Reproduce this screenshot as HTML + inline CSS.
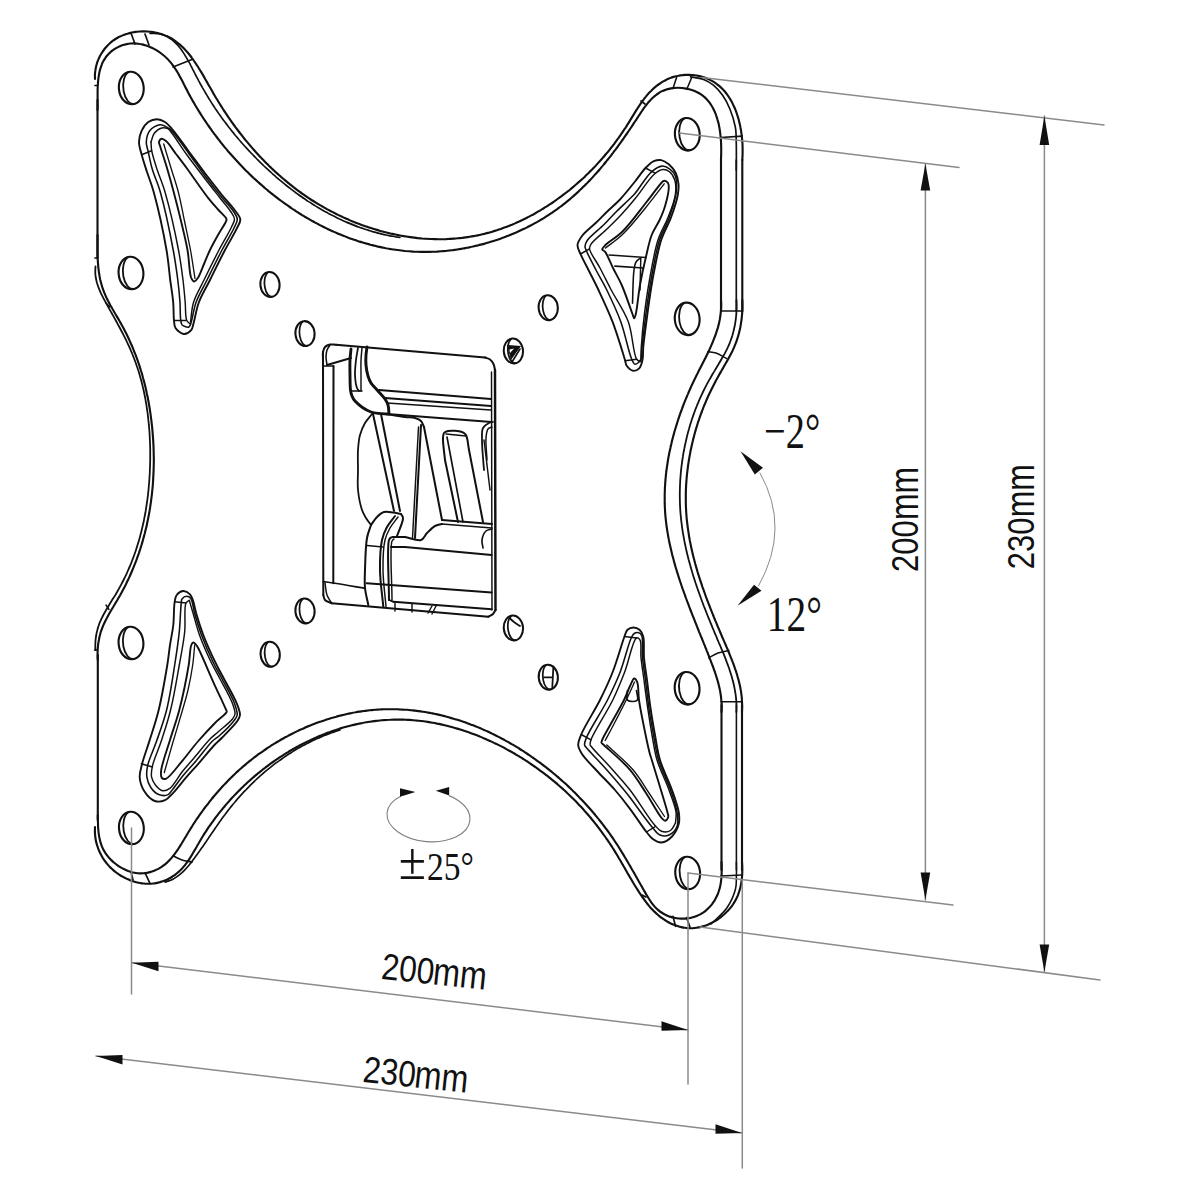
<!DOCTYPE html>
<html><head><meta charset="utf-8"><style>
html,body{margin:0;padding:0;background:#fff;}
svg{display:block;}
text{fill:#111;}
</style></head><body>
<svg width="1200" height="1200" viewBox="0 0 1200 1200" stroke-linecap="round" stroke-linejoin="round">
<rect width="1200" height="1200" fill="#fff"/>
<path d="M97.5,110 C97.5,108.7 97.6,107.5 97.6,106.2 C97.6,104.9 97.6,103.6 97.6,102.2 C97.6,100.9 97.6,99.5 97.6,98.1 C97.6,96.7 97.6,95.3 97.6,93.9 C97.6,92.5 97.6,91.1 97.6,89.7 C97.7,88.2 97.7,86.8 97.8,85.4 C97.9,84 98,82.5 98.1,81.1 C98.3,79.7 98.4,78.3 98.6,76.9 C98.8,75.6 99.1,74.2 99.3,72.9 C99.6,71.5 99.9,70.2 100.3,68.9 C100.7,67.6 101.1,66.4 101.6,65.1 C102,63.9 102.5,62.7 103.1,61.6 C103.7,60.4 104.4,59.3 105.1,58.3 C105.8,57.2 106.6,56.2 107.4,55.3 C108.2,54.3 109.1,53.4 110,52.6 C110.9,51.7 111.9,50.9 112.9,50.2 C113.9,49.4 115,48.7 116.1,48.1 C117.2,47.5 118.3,46.9 119.4,46.4 C120.6,45.9 121.8,45.4 123,45 C124.2,44.7 125.4,44.3 126.7,44.1 C127.9,43.8 129.2,43.6 130.5,43.5 C131.8,43.4 133.1,43.4 134.4,43.4 C135.7,43.4 137,43.5 138.3,43.7 C139.6,43.9 140.9,44.1 142.2,44.4 C143.5,44.7 144.8,45.1 146.1,45.5 C147.3,45.9 148.6,46.4 149.9,46.9 C151.1,47.4 152.4,48 153.6,48.6 C154.8,49.3 156,50 157.2,50.7 C158.3,51.4 159.5,52.2 160.6,53 C161.7,53.8 162.8,54.6 163.8,55.5 C164.9,56.4 165.9,57.3 166.8,58.2 C167.8,59.1 168.7,60.1 169.5,61.1 C170.4,62.1 171.2,63.1 172,64.1 C172.8,65.2 173.6,66.2 174.3,67.3 C175.1,68.4 175.8,69.5 176.5,70.6 C177.2,71.7 177.8,72.8 178.5,73.9 C179.1,75.1 179.7,76.2 180.3,77.4 C181,78.5 181.6,79.7 182.2,80.8 C182.8,82 183.4,83.2 184,84.4 C184.6,85.5 185.1,86.7 185.7,87.9 C186.4,89.1 187,90.2 187.6,91.4 C188.2,92.6 188.8,93.7 189.4,94.9 C190.1,96.1 190.7,97.2 191.4,98.4 C192,99.5 192.7,100.7 193.3,101.9 C194,103 194.7,104.2 195.3,105.3 C196,106.5 196.7,107.6 197.4,108.7 C198.1,109.9 198.8,111 199.5,112.1 C200.2,113.3 200.9,114.4 201.6,115.5 C202.4,116.7 203.1,117.8 203.8,118.9 C204.6,120 205.3,121.1 206.1,122.2 C206.8,123.4 207.6,124.5 208.4,125.6 C209.1,126.7 209.9,127.8 210.7,128.9 C211.5,130 212.2,131.1 213,132.1 C213.8,133.2 214.6,134.3 215.5,135.4 C216.3,136.5 217.1,137.5 217.9,138.6 C218.7,139.7 219.6,140.7 220.4,141.8 C221.2,142.9 222.1,143.9 222.9,145 C223.8,146 224.6,147.1 225.5,148.1 C226.4,149.1 227.2,150.2 228.1,151.2 C229,152.2 229.9,153.3 230.8,154.3 C231.7,155.3 232.6,156.3 233.5,157.3 C234.4,158.3 235.3,159.3 236.2,160.3 C237.1,161.3 238,162.3 239,163.3 C239.9,164.3 240.8,165.3 241.8,166.2 C242.7,167.2 243.6,168.2 244.6,169.2 C245.5,170.1 246.5,171.1 247.5,172 C248.4,173 249.4,173.9 250.4,174.9 C251.4,175.8 252.3,176.7 253.3,177.7 C254.3,178.6 255.3,179.5 256.3,180.4 C257.3,181.3 258.3,182.2 259.3,183.1 C260.3,184 261.3,184.9 262.4,185.8 C263.4,186.7 264.4,187.6 265.4,188.5 C266.5,189.3 267.5,190.2 268.5,191.1 C269.6,191.9 270.6,192.8 271.7,193.6 C272.7,194.5 273.8,195.3 274.9,196.1 C275.9,197 277,197.8 278.1,198.6 C279.1,199.4 280.2,200.2 281.3,201 C282.4,201.8 283.5,202.6 284.6,203.4 C285.7,204.2 286.7,205 287.9,205.7 C289,206.5 290.1,207.3 291.2,208 C292.3,208.8 293.4,209.5 294.5,210.2 C295.6,211 296.8,211.7 297.9,212.4 C299,213.2 300.2,213.9 301.3,214.6 C302.4,215.3 303.6,216 304.7,216.7 C305.9,217.3 307,218 308.2,218.7 C309.3,219.4 310.5,220 311.7,220.7 C312.8,221.3 314,222 315.2,222.6 C316.3,223.2 317.5,223.9 318.7,224.5 C319.9,225.1 321,225.7 322.2,226.3 C323.4,226.9 324.6,227.5 325.8,228.1 C327,228.7 328.2,229.2 329.4,229.8 C330.6,230.4 331.8,230.9 333,231.4 C334.2,232 335.4,232.5 336.7,233 C337.9,233.6 339.1,234.1 340.3,234.6 C341.5,235.1 342.8,235.6 344,236.1 C345.2,236.5 346.5,237 347.7,237.5 C348.9,237.9 350.2,238.4 351.4,238.8 C352.7,239.3 353.9,239.7 355.2,240.1 C356.4,240.6 357.7,241 358.9,241.4 C360.2,241.8 361.4,242.2 362.7,242.5 C364,242.9 365.2,243.3 366.5,243.6 C367.8,244 369,244.3 370.3,244.7 C371.6,245 372.8,245.3 374.1,245.6 C375.4,246 376.7,246.3 378,246.6 C379.2,246.8 380.5,247.1 381.8,247.4 C383.1,247.7 384.4,247.9 385.7,248.2 C387,248.4 388.3,248.6 389.6,248.9 C390.9,249.1 392.2,249.3 393.5,249.5 C394.8,249.7 396.1,249.9 397.4,250 C398.7,250.2 400,250.4 401.3,250.5 C402.6,250.7 403.9,250.8 405.2,251 C406.6,251.1 407.9,251.2 409.2,251.3 C410.5,251.4 411.8,251.5 413.1,251.6 C414.5,251.6 415.8,251.7 417.1,251.8 C418.4,251.8 419.8,251.8 421.1,251.9 C422.4,251.9 423.7,251.9 425.1,251.9 C426.4,251.9 427.7,251.9 429.1,251.9 C430.4,251.8 431.7,251.8 433.1,251.8 C434.4,251.7 435.7,251.6 437.1,251.6 C438.4,251.5 439.7,251.4 441.1,251.3 C442.4,251.2 443.8,251.1 445.1,251 C446.4,250.8 447.8,250.7 449.1,250.5 C450.4,250.4 451.8,250.2 453.1,250.1 C454.5,249.9 455.8,249.7 457.1,249.5 C458.5,249.3 459.8,249.1 461.1,248.9 C462.5,248.6 463.8,248.4 465.1,248.1 C466.4,247.9 467.8,247.6 469.1,247.4 C470.4,247.1 471.7,246.8 473.1,246.5 C474.4,246.2 475.7,245.9 477,245.6 C478.3,245.3 479.7,245 481,244.6 C482.3,244.3 483.6,243.9 484.9,243.6 C486.2,243.2 487.5,242.8 488.8,242.4 C490.1,242 491.4,241.6 492.7,241.2 C494,240.8 495.3,240.4 496.6,240 C497.9,239.5 499.1,239.1 500.4,238.7 C501.7,238.2 503,237.7 504.3,237.3 C505.5,236.8 506.8,236.3 508,235.8 C509.3,235.3 510.6,234.8 511.8,234.3 C513.1,233.8 514.3,233.2 515.6,232.7 C516.8,232.2 518,231.6 519.3,231 C520.5,230.5 521.7,229.9 522.9,229.3 C524.2,228.7 525.4,228.2 526.6,227.6 C527.8,226.9 529,226.3 530.2,225.7 C531.4,225.1 532.6,224.5 533.7,223.8 C534.9,223.2 536.1,222.5 537.3,221.9 C538.4,221.2 539.6,220.5 540.8,219.8 C541.9,219.2 543.1,218.5 544.2,217.8 C545.3,217.1 546.5,216.3 547.6,215.6 C548.7,214.9 549.8,214.2 550.9,213.4 C552,212.7 553.1,211.9 554.2,211.2 C555.3,210.4 556.4,209.6 557.5,208.9 C558.6,208.1 559.6,207.3 560.7,206.5 C561.7,205.7 562.8,204.9 563.8,204.1 C564.9,203.2 565.9,202.4 566.9,201.6 C567.9,200.8 569,199.9 570,199.1 C571,198.2 572,197.4 573,196.5 C574,195.6 574.9,194.7 575.9,193.9 C576.9,193 577.9,192.1 578.8,191.2 C579.8,190.3 580.7,189.4 581.7,188.5 C582.6,187.5 583.6,186.6 584.5,185.7 C585.5,184.8 586.4,183.8 587.3,182.9 C588.2,181.9 589.2,181 590.1,180 C591,179.1 591.9,178.1 592.8,177.1 C593.7,176.1 594.6,175.2 595.4,174.2 C596.3,173.2 597.2,172.2 598.1,171.2 C599,170.2 599.8,169.2 600.7,168.2 C601.5,167.2 602.4,166.1 603.3,165.1 C604.1,164.1 605,163.1 605.8,162 C606.6,161 607.5,160 608.3,158.9 C609.1,157.9 610,156.8 610.8,155.8 C611.6,154.7 612.4,153.6 613.2,152.6 C614,151.5 614.9,150.4 615.7,149.4 C616.5,148.3 617.3,147.2 618.1,146.1 C618.9,145 619.6,143.9 620.4,142.8 C621.2,141.7 622,140.6 622.8,139.5 C623.6,138.4 624.3,137.3 625.1,136.2 C625.9,135.1 626.7,134 627.4,132.9 C628.2,131.8 629,130.6 629.7,129.5 C630.5,128.4 631.2,127.3 632,126.1 C632.7,125 633.5,123.8 634.2,122.7 C635,121.6 635.7,120.4 636.5,119.3 C637.2,118.1 638,117 638.7,115.8 C639.5,114.7 640.2,113.6 641,112.4 C641.7,111.3 642.5,110.2 643.2,109.1 C644,108 644.8,106.9 645.6,105.9 C646.4,104.8 647.2,103.8 648,102.8 C648.9,101.8 649.7,100.8 650.6,99.9 C651.5,98.9 652.4,98 653.3,97.2 C654.2,96.3 655.2,95.5 656.2,94.8 C657.2,94 658.2,93.3 659.3,92.7 C660.4,92 661.5,91.4 662.6,90.9 C663.8,90.4 665,89.9 666.2,89.6 C667.4,89.2 668.7,88.9 670,88.6 C671.3,88.3 672.6,88.2 674,88 C675.3,87.9 676.7,87.8 678,87.8 C679.4,87.8 680.8,87.9 682.1,88 C683.5,88.2 684.9,88.4 686.2,88.6 C687.6,88.9 688.9,89.2 690.2,89.5 C691.5,89.9 692.8,90.3 694.1,90.8 C695.3,91.3 696.5,91.9 697.7,92.5 C698.8,93.1 699.9,93.7 701,94.4 C702,95.1 703.1,95.9 704,96.7 C705,97.5 705.9,98.4 706.7,99.3 C707.6,100.2 708.4,101.2 709.2,102.2 C709.9,103.2 710.6,104.2 711.3,105.3 C712,106.4 712.6,107.5 713.2,108.6 C713.8,109.8 714.4,110.9 714.9,112.1 C715.4,113.4 715.9,114.6 716.3,115.8 C716.8,117.1 717.2,118.4 717.5,119.7 C717.9,121 718.2,122.3 718.6,123.6 C718.9,124.9 719.1,126.3 719.4,127.6 C719.6,129 719.8,130.4 720,131.7 C720.2,133.1 720.4,134.5 720.5,135.9 C720.7,137.2 720.8,138.6 720.9,140 C721,141.4 721.1,142.8 721.1,144.1 C721.2,145.5 721.2,146.9 721.2,148.2 C721.2,149.6 721.2,150.9 721.2,152.3 C721.2,153.6 721.2,154.9 721.1,156.2 C721.1,157.5 721,158.7 721,160" stroke="#111" stroke-width="2.13" fill="none" />
<line x1="721" y1="160" x2="721" y2="311" stroke="#111" stroke-width="2.13"/>
<line x1="97.5" y1="100" x2="97.5" y2="258" stroke="#111" stroke-width="2.13"/>
<path d="M95,79 C95,77.7 94.9,76.3 94.9,75 C95,73.6 95.1,72.3 95.3,70.9 C95.4,69.6 95.7,68.3 96,67 C96.3,65.7 96.6,64.4 97,63.1 C97.4,61.8 97.9,60.6 98.4,59.4 C98.9,58.1 99.5,56.9 100.1,55.7 C100.8,54.6 101.4,53.4 102.2,52.3 C102.9,51.2 103.7,50.1 104.5,49 C105.3,48 106.2,47 107.1,46 C108,45 108.9,44.1 109.9,43.2 C110.9,42.3 111.9,41.5 113,40.7 C114.1,39.9 115.2,39.2 116.3,38.5 C117.5,37.8 118.7,37.1 119.9,36.6 C121.1,36 122.3,35.4 123.6,35 C124.8,34.5 126.1,34 127.4,33.7 C128.7,33.3 130,32.9 131.4,32.6 C132.7,32.4 134,32.1 135.4,31.9 C136.7,31.7 138.1,31.6 139.5,31.5 C140.8,31.4 142.2,31.4 143.6,31.4 C144.9,31.4 146.3,31.4 147.6,31.5 C149,31.6 150.3,31.7 151.7,31.9 C153,32.1 154.3,32.3 155.6,32.6 C156.9,32.8 158.2,33.1 159.5,33.5 C160.7,33.8 162,34.2 163.2,34.7 C164.4,35.1 165.6,35.6 166.7,36.1 C167.9,36.6 169,37.2 170.1,37.8 C171.2,38.4 172.3,39 173.3,39.7 C174.3,40.3 175.4,41.1 176.3,41.8 C177.3,42.5 178.3,43.3 179.3,44.1 C180.2,44.9 181.1,45.7 182,46.6 C182.9,47.4 183.8,48.3 184.7,49.2 C185.6,50.2 186.4,51.1 187.2,52.1 C188.1,53 188.9,54 189.7,55 C190.5,56 191.3,57 192,58.1 C192.8,59.1 193.6,60.2 194.3,61.3 C195.1,62.4 195.8,63.5 196.5,64.6 C197.3,65.7 198,66.8 198.7,68 C199.4,69.1 200.1,70.3 200.8,71.4 C201.5,72.6 202.2,73.8 202.9,74.9 C203.6,76.1 204.3,77.3 204.9,78.5 C205.6,79.7 206.3,80.9 207,82.1 C207.7,83.3 208.3,84.5 209,85.7 C209.7,86.9 210.4,88.1 211.1,89.3 C211.8,90.5 212.4,91.7 213.1,92.9 C213.8,94.1 214.5,95.3 215.2,96.5 C215.9,97.7 216.6,98.8 217.4,100 C218.1,101.2 218.8,102.4 219.5,103.5 C220.2,104.7 221,105.9 221.7,107 C222.4,108.2 223.2,109.3 223.9,110.5 C224.7,111.6 225.4,112.8 226.2,113.9 C227,115 227.7,116.2 228.5,117.3 C229.3,118.4 230,119.5 230.8,120.6 C231.6,121.8 232.4,122.9 233.2,124 C234,125.1 234.8,126.2 235.6,127.3 C236.4,128.3 237.2,129.4 238,130.5 C238.8,131.6 239.6,132.7 240.5,133.7 C241.3,134.8 242.1,135.9 243,136.9 C243.8,138 244.7,139 245.5,140.1 C246.4,141.1 247.2,142.1 248.1,143.2 C248.9,144.2 249.8,145.2 250.7,146.2 C251.5,147.2 252.4,148.3 253.3,149.3 C254.2,150.3 255.1,151.3 256,152.3 C256.9,153.2 257.8,154.2 258.7,155.2 C259.6,156.2 260.5,157.2 261.4,158.1 C262.3,159.1 263.3,160 264.2,161 C265.1,161.9 266.1,162.9 267,163.8 C267.9,164.8 268.9,165.7 269.8,166.6 C270.8,167.5 271.7,168.5 272.7,169.4 C273.7,170.3 274.6,171.2 275.6,172.1 C276.6,173 277.6,173.8 278.6,174.7 C279.6,175.6 280.5,176.5 281.5,177.3 C282.5,178.2 283.5,179.1 284.6,179.9 C285.6,180.8 286.6,181.6 287.6,182.4 C288.6,183.3 289.7,184.1 290.7,184.9 C291.7,185.7 292.8,186.6 293.8,187.4 C294.9,188.2 295.9,189 297,189.8 C298,190.5 299.1,191.3 300.2,192.1 C301.2,192.9 302.3,193.6 303.4,194.4 C304.5,195.2 305.5,195.9 306.6,196.6 C307.7,197.4 308.8,198.1 309.9,198.8 C311,199.6 312.1,200.3 313.3,201 C314.4,201.7 315.5,202.4 316.6,203.1 C317.7,203.8 318.9,204.5 320,205.1 C321.2,205.8 322.3,206.5 323.5,207.1 C324.6,207.8 325.8,208.4 326.9,209.1 C328.1,209.7 329.3,210.3 330.4,211 C331.6,211.6 332.8,212.2 334,212.8 C335.2,213.4 336.3,214 337.5,214.6 C338.7,215.2 339.9,215.8 341.1,216.3 C342.4,216.9 343.6,217.5 344.8,218 C346,218.6 347.2,219.1 348.5,219.6 C349.7,220.2 350.9,220.7 352.1,221.2 C353.4,221.7 354.6,222.2 355.9,222.7 C357.1,223.2 358.4,223.7 359.6,224.1 C360.9,224.6 362.1,225.1 363.4,225.5 C364.7,226 365.9,226.4 367.2,226.8 C368.5,227.3 369.7,227.7 371,228.1 C372.3,228.5 373.6,228.9 374.9,229.3 C376.1,229.7 377.4,230.1 378.7,230.4 C380,230.8 381.3,231.2 382.6,231.5 C383.9,231.9 385.2,232.2 386.5,232.5 C387.8,232.8 389.1,233.2 390.4,233.5 C391.7,233.8 393,234 394.3,234.3 C395.6,234.6 396.9,234.9 398.2,235.1 C399.6,235.4 400.9,235.6 402.2,235.9 C403.5,236.1 404.8,236.3 406.2,236.5 C407.5,236.7 408.8,236.9 410.1,237.1 C411.4,237.3 412.8,237.5 414.1,237.6 C415.4,237.8 416.7,237.9 418.1,238.1 C419.4,238.2 420.7,238.3 422.1,238.5 C423.4,238.6 424.7,238.7 426,238.7 C427.4,238.8 428.7,238.9 430,239 C431.4,239 432.7,239.1 434,239.1 C435.3,239.1 436.7,239.2 438,239.2 C439.3,239.2 440.7,239.2 442,239.2 C443.3,239.1 444.6,239.1 446,239.1 C447.3,239 448.6,239 449.9,238.9 C451.3,238.8 452.6,238.7 453.9,238.6 C455.2,238.5 456.6,238.4 457.9,238.3 C459.2,238.2 460.5,238 461.8,237.9 C463.2,237.7 464.5,237.6 465.8,237.4 C467.1,237.2 468.4,237 469.7,236.8 C471,236.6 472.3,236.4 473.6,236.1 C474.9,235.9 476.2,235.6 477.5,235.4 C478.8,235.1 480.1,234.8 481.4,234.5 C482.7,234.2 484,233.9 485.3,233.6 C486.6,233.2 487.9,232.9 489.2,232.6 C490.4,232.2 491.7,231.8 493,231.4 C494.3,231.1 495.6,230.7 496.8,230.3 C498.1,229.8 499.4,229.4 500.6,229 C501.9,228.5 503.1,228.1 504.4,227.6 C505.6,227.2 506.9,226.7 508.1,226.2 C509.4,225.7 510.6,225.2 511.9,224.7 C513.1,224.2 514.3,223.7 515.6,223.1 C516.8,222.6 518,222 519.2,221.5 C520.5,220.9 521.7,220.3 522.9,219.7 C524.1,219.2 525.3,218.6 526.5,218 C527.7,217.3 528.9,216.7 530.1,216.1 C531.3,215.5 532.5,214.8 533.7,214.2 C534.8,213.5 536,212.9 537.2,212.2 C538.4,211.5 539.5,210.8 540.7,210.1 C541.8,209.4 543,208.7 544.1,208 C545.3,207.3 546.4,206.6 547.6,205.9 C548.7,205.1 549.8,204.4 551,203.6 C552.1,202.9 553.2,202.1 554.3,201.4 C555.4,200.6 556.5,199.8 557.6,199 C558.7,198.2 559.8,197.4 560.9,196.6 C562,195.8 563.1,195 564.1,194.2 C565.2,193.4 566.3,192.6 567.3,191.7 C568.4,190.9 569.4,190.1 570.5,189.2 C571.5,188.4 572.5,187.5 573.6,186.6 C574.6,185.8 575.6,184.9 576.6,184 C577.6,183.1 578.6,182.2 579.6,181.4 C580.6,180.5 581.6,179.6 582.6,178.7 C583.6,177.8 584.6,176.8 585.5,175.9 C586.5,175 587.4,174.1 588.4,173.2 C589.3,172.2 590.3,171.3 591.2,170.3 C592.1,169.4 593.1,168.5 594,167.5 C594.9,166.6 595.8,165.6 596.7,164.6 C597.6,163.7 598.5,162.7 599.3,161.7 C600.2,160.8 601.1,159.8 602,158.8 C602.8,157.8 603.7,156.8 604.5,155.8 C605.4,154.8 606.2,153.8 607.1,152.8 C607.9,151.8 608.7,150.8 609.5,149.8 C610.3,148.8 611.2,147.7 612,146.7 C612.8,145.7 613.6,144.6 614.4,143.6 C615.1,142.5 615.9,141.5 616.7,140.4 C617.5,139.3 618.3,138.3 619,137.2 C619.8,136.1 620.5,135 621.3,133.9 C622.1,132.8 622.8,131.7 623.5,130.6 C624.3,129.5 625,128.4 625.8,127.3 C626.5,126.2 627.2,125 627.9,123.9 C628.7,122.7 629.4,121.6 630.1,120.4 C630.8,119.3 631.5,118.1 632.2,116.9 C632.9,115.8 633.6,114.6 634.4,113.4 C635.1,112.3 635.8,111.1 636.5,109.9 C637.3,108.8 638,107.6 638.7,106.5 C639.5,105.4 640.2,104.2 641,103.1 C641.8,102 642.6,100.9 643.4,99.8 C644.2,98.7 645,97.6 645.9,96.6 C646.7,95.6 647.6,94.5 648.5,93.5 C649.4,92.6 650.3,91.6 651.3,90.7 C652.2,89.7 653.2,88.8 654.2,87.9 C655.2,87.1 656.2,86.2 657.2,85.4 C658.3,84.6 659.4,83.9 660.5,83.1 C661.6,82.4 662.7,81.7 663.8,81.1 C665,80.5 666.1,79.9 667.3,79.3 C668.5,78.8 669.7,78.2 670.9,77.8 C672.1,77.3 673.4,76.9 674.6,76.6 C675.9,76.2 677.2,75.9 678.5,75.7 C679.7,75.4 681.1,75.2 682.4,75.1 C683.7,74.9 685,74.9 686.4,74.8 C687.7,74.8 689,74.8 690.4,74.9 C691.7,74.9 693,75.1 694.3,75.2 C695.7,75.4 697,75.6 698.3,75.9 C699.6,76.2 700.9,76.5 702.2,76.8 C703.4,77.2 704.7,77.6 705.9,78.1 C707.1,78.6 708.3,79.1 709.5,79.6 C710.7,80.2 711.8,80.8 712.9,81.4 C714,82.1 715.1,82.8 716.1,83.5 C717.2,84.3 718.2,85 719.2,85.9 C720.1,86.7 721.1,87.6 722,88.5 C722.9,89.4 723.7,90.3 724.6,91.3 C725.4,92.2 726.2,93.2 727,94.3 C727.7,95.3 728.5,96.4 729.2,97.5 C729.9,98.6 730.5,99.7 731.2,100.8 C731.8,102 732.5,103.2 733,104.4 C733.6,105.6 734.2,106.8 734.7,108 C735.2,109.3 735.7,110.5 736.2,111.8 C736.7,113.1 737.1,114.4 737.5,115.7 C737.9,117 738.3,118.3 738.7,119.6 C739,121 739.4,122.3 739.7,123.7 C740,125 740.3,126.4 740.5,127.7 C740.8,129.1 741,130.5 741.2,131.8 C741.4,133.2 741.6,134.6 741.8,136 C741.9,137.3 742.1,138.7 742.2,140.1 C742.3,141.4 742.4,142.8 742.5,144.2 C742.5,145.5 742.6,146.9 742.6,148.2 C742.6,149.6 742.6,150.9 742.6,152.2 C742.6,153.5 742.6,154.9 742.5,156.2 C742.5,157.4 742.4,158.7 742.3,160" stroke="#111" stroke-width="2.13" fill="none" />
<line x1="742.3" y1="160" x2="742.3" y2="311" stroke="#111" stroke-width="2.13"/>
<path d="M150,33.5 C151.5,33.4 153,33.3 154.4,33.3 C155.8,33.4 157.2,33.5 158.5,33.7 C159.8,34 161.1,34.3 162.3,34.6 C163.5,35 164.7,35.5 165.8,36 C167,36.5 168.1,37.1 169.1,37.8 C170.1,38.4 171.2,39.2 172.1,39.9 C173.1,40.7 174,41.5 174.9,42.4 C175.8,43.2 176.7,44.2 177.6,45.1 C178.4,46.1 179.2,47.1 180,48.1 C180.8,49.1 181.6,50.2 182.4,51.3 C183.1,52.3 183.9,53.5 184.6,54.6 C185.3,55.7 186,56.9 186.7,58.1 C187.4,59.3 188.1,60.5 188.7,61.7 C189.4,62.9 190.1,64.1 190.7,65.4 C191.4,66.6 192,67.8 192.6,69.1 C193.3,70.3 193.9,71.6 194.6,72.9 C195.2,74.1 195.8,75.4 196.5,76.6 C197.1,77.8 197.8,79.1 198.4,80.3 C199.1,81.5 199.8,82.8 200.4,84 C201.1,85.2 201.8,86.4 202.4,87.6 C203.1,88.8 203.8,90 204.5,91.2 C205.2,92.4 205.9,93.5 206.6,94.7 C207.3,95.9 208,97 208.7,98.2 C209.4,99.3 210.1,100.5 210.8,101.6 C211.6,102.8 212.3,103.9 213,105 C213.8,106.2 214.5,107.3 215.2,108.4 C216,109.5 216.7,110.6 217.5,111.7 C218.3,112.8 219,113.9 219.8,115 C220.6,116.1 221.3,117.2 222.1,118.2 C222.9,119.3 223.7,120.4 224.5,121.4 C225.3,122.5 226,123.6 226.9,124.6 C227.7,125.7 228.5,126.7 229.3,127.8 C230.1,128.8 230.9,129.8 231.7,130.9 C232.6,131.9 233.4,132.9 234.2,133.9 C235.1,135 235.9,136 236.8,137 C237.6,138 238.5,139 239.3,140 C240.2,141 241,142 241.9,143 C242.8,144 243.7,145 244.6,146 C245.4,146.9 246.3,147.9 247.2,148.9 C248.1,149.9 249,150.8 249.9,151.8 C250.8,152.8 251.8,153.7 252.7,154.7 C253.6,155.6 254.5,156.6 255.5,157.5 C256.4,158.5 257.3,159.4 258.3,160.4 C259.2,161.3 260.2,162.3 261.1,163.2 C262.1,164.1 263,165 264,166 C265,166.9 265.9,167.8 266.9,168.7 C267.9,169.6 268.9,170.5 269.9,171.4 C270.9,172.3 271.8,173.2 272.8,174.1 C273.8,175 274.9,175.9 275.9,176.8 C276.9,177.6 277.9,178.5 278.9,179.4 C279.9,180.2 281,181.1 282,181.9 C283,182.8 284.1,183.6 285.1,184.5 C286.2,185.3 287.2,186.2 288.3,187 C289.3,187.8 290.4,188.6 291.4,189.4 C292.5,190.3 293.6,191.1 294.7,191.9 C295.7,192.7 296.8,193.4 297.9,194.2 C299,195 300.1,195.8 301.2,196.5 C302.3,197.3 303.4,198.1 304.5,198.8 C305.6,199.6 306.7,200.3 307.8,201.1 C308.9,201.8 310.1,202.5 311.2,203.2 C312.3,204 313.4,204.7 314.6,205.4 C315.7,206.1 316.8,206.8 318,207.5 C319.1,208.1 320.3,208.8 321.4,209.5 C322.6,210.1 323.8,210.8 324.9,211.5 C326.1,212.1 327.3,212.7 328.4,213.4 C329.6,214 330.8,214.6 332,215.2 C333.2,215.8 334.3,216.4 335.5,217 C336.7,217.6 337.9,218.2 339.1,218.8 C340.3,219.3 341.5,219.9 342.7,220.5 C344,221 345.2,221.6 346.4,222.1 C347.6,222.6 348.8,223.1 350.1,223.6 C351.3,224.1 352.5,224.6 353.8,225.1 C355,225.6 356.2,226.1 357.5,226.6 C358.7,227 360,227.5 361.2,227.9 C362.5,228.3 363.7,228.8 365,229.2 C366.3,229.6 367.5,230 368.8,230.4 C370.1,230.8 371.3,231.2 372.6,231.6 C373.9,231.9 375.2,232.3 376.5,232.6 C377.7,233 379,233.3 380.3,233.6 C381.6,234 382.9,234.3 384.2,234.6 C385.5,234.9 386.8,235.1 388.1,235.4 C389.4,235.7 390.8,235.9 392.1,236.2 C393.4,236.4 394.7,236.6 396,236.9 C397.4,237.1 398.7,237.3 400,237.5" stroke="#111" stroke-width="1.68" fill="none" />
<path d="M690.5,76.9 C695.1,77.8 700.2,78.1 704.2,79.7 C707.7,81.1 710.5,82.8 713.4,85.2 C716.7,87.9 719.9,91.5 722.6,95.3 C725.5,99.4 727.8,104 729.9,109 C732.2,114.6 734.3,121.3 735.4,127.4 C736.4,133.3 736.1,138.6 736.3,145 C736.5,152.6 736.3,161.7 736.3,170" stroke="#111" stroke-width="1.68" fill="none" />
<line x1="673" y1="88.4" x2="676.7" y2="76.9" stroke="#111" stroke-width="1.57"/>
<line x1="686.8" y1="89.3" x2="691.4" y2="78.3" stroke="#111" stroke-width="1.57"/>
<line x1="720.7" y1="137.5" x2="742.3" y2="136.1" stroke="#111" stroke-width="1.57"/>
<line x1="736.3" y1="160" x2="736.3" y2="311" stroke="#111" stroke-width="1.68"/>
<line x1="131" y1="33" x2="135" y2="44" stroke="#111" stroke-width="1.68"/>
<line x1="145" y1="34" x2="149" y2="45" stroke="#111" stroke-width="1.68"/>
<line x1="173" y1="67" x2="192" y2="59.5" stroke="#111" stroke-width="1.68"/>
<line x1="95" y1="85.5" x2="97.5" y2="85.5" stroke="#111" stroke-width="1.68"/>
<line x1="95" y1="258" x2="97.5" y2="258" stroke="#111" stroke-width="1.68"/>
<line x1="721" y1="311" x2="742.5" y2="311" stroke="#111" stroke-width="1.68"/>
<line x1="641" y1="101" x2="645" y2="104" stroke="#111" stroke-width="1.68"/>
<path d="M97.5,235 C97.5,236.3 97.5,237.7 97.5,239 C97.5,240.3 97.5,241.7 97.5,243 C97.5,244.4 97.4,245.7 97.5,247.1 C97.5,248.4 97.5,249.8 97.5,251.1 C97.5,252.5 97.5,253.8 97.6,255.2 C97.6,256.6 97.7,257.9 97.7,259.3 C97.8,260.6 97.9,262 98,263.3 C98.1,264.7 98.2,266 98.3,267.3 C98.5,268.7 98.6,270 98.8,271.3 C99,272.7 99.2,274 99.4,275.3 C99.6,276.6 99.9,277.9 100.1,279.2 C100.4,280.5 100.7,281.8 101.1,283.1 C101.4,284.4 101.8,285.6 102.2,286.9 C102.6,288.1 103,289.4 103.5,290.6 C103.9,291.8 104.4,293.1 105,294.3 C105.5,295.5 106,296.7 106.6,297.9 C107.2,299.1 107.8,300.3 108.4,301.4 C109,302.6 109.6,303.8 110.2,305 C110.9,306.1 111.5,307.3 112.2,308.5 C112.9,309.6 113.5,310.8 114.2,312 C114.9,313.1 115.6,314.3 116.2,315.4 C116.9,316.6 117.6,317.8 118.3,318.9 C119,320.1 119.6,321.3 120.3,322.4 C121,323.6 121.6,324.8 122.3,326 C122.9,327.1 123.6,328.3 124.2,329.5 C124.8,330.7 125.4,331.9 126,333.1 C126.6,334.3 127.2,335.5 127.8,336.7 C128.4,337.9 128.9,339.1 129.5,340.4 C130.1,341.6 130.6,342.8 131.1,344 C131.7,345.3 132.2,346.5 132.7,347.7 C133.2,349 133.7,350.2 134.2,351.5 C134.7,352.7 135.2,354 135.7,355.2 C136.2,356.5 136.6,357.7 137.1,359 C137.5,360.3 138,361.5 138.4,362.8 C138.8,364.1 139.3,365.3 139.7,366.6 C140.1,367.9 140.5,369.2 140.9,370.5 C141.3,371.7 141.7,373 142.1,374.3 C142.4,375.6 142.8,376.9 143.1,378.2 C143.5,379.5 143.8,380.8 144.2,382.1 C144.5,383.4 144.8,384.7 145.2,386 C145.5,387.3 145.8,388.6 146.1,389.9 C146.4,391.2 146.7,392.6 146.9,393.9 C147.2,395.2 147.5,396.5 147.8,397.8 C148,399.2 148.3,400.5 148.5,401.8 C148.8,403.1 149,404.5 149.2,405.8 C149.5,407.1 149.7,408.4 149.9,409.8 C150.1,411.1 150.3,412.4 150.5,413.8 C150.7,415.1 150.8,416.4 151,417.8 C151.2,419.1 151.4,420.4 151.5,421.8 C151.7,423.1 151.8,424.5 152,425.8 C152.1,427.1 152.2,428.5 152.4,429.8 C152.5,431.2 152.6,432.5 152.7,433.9 C152.8,435.2 152.9,436.5 153,437.9 C153.1,439.2 153.2,440.6 153.3,441.9 C153.3,443.3 153.4,444.6 153.5,446 C153.5,447.3 153.6,448.7 153.6,450 C153.7,451.3 153.7,452.7 153.7,454 C153.7,455.4 153.8,456.7 153.8,458.1 C153.8,459.4 153.8,460.8 153.8,462.1 C153.8,463.5 153.7,464.8 153.7,466.1 C153.7,467.5 153.6,468.8 153.6,470.2 C153.6,471.5 153.5,472.9 153.4,474.2 C153.4,475.5 153.3,476.9 153.2,478.2 C153.2,479.6 153.1,480.9 153,482.2 C152.9,483.6 152.8,484.9 152.7,486.3 C152.6,487.6 152.4,488.9 152.3,490.3 C152.2,491.6 152,492.9 151.9,494.3 C151.7,495.6 151.6,496.9 151.4,498.2 C151.2,499.6 151.1,500.9 150.9,502.2 C150.7,503.6 150.5,504.9 150.3,506.2 C150.1,507.5 149.9,508.8 149.7,510.2 C149.4,511.5 149.2,512.8 149,514.1 C148.7,515.4 148.5,516.7 148.2,518.1 C148,519.4 147.7,520.7 147.4,522 C147.1,523.3 146.9,524.6 146.6,525.9 C146.3,527.2 146,528.5 145.6,529.8 C145.3,531.1 145,532.4 144.7,533.7 C144.3,535 144,536.3 143.6,537.6 C143.3,538.9 142.9,540.1 142.6,541.4 C142.2,542.7 141.8,544 141.4,545.3 C141,546.5 140.6,547.8 140.2,549.1 C139.8,550.3 139.4,551.6 139,552.9 C138.5,554.1 138.1,555.4 137.6,556.7 C137.2,557.9 136.7,559.2 136.3,560.4 C135.8,561.7 135.3,562.9 134.8,564.2 C134.3,565.4 133.8,566.7 133.3,567.9 C132.8,569.1 132.3,570.4 131.8,571.6 C131.2,572.8 130.7,574.1 130.2,575.3 C129.6,576.5 129.1,577.7 128.5,578.9 C127.9,580.1 127.3,581.4 126.7,582.6 C126.2,583.8 125.6,585 125,586.2 C124.3,587.4 123.7,588.6 123.1,589.7 C122.5,590.9 121.8,592.1 121.2,593.3 C120.5,594.5 119.9,595.7 119.2,596.8 C118.5,598 117.8,599.2 117.2,600.3 C116.5,601.5 115.8,602.6 115.1,603.8 C114.4,605 113.7,606.1 113,607.3 C112.3,608.4 111.6,609.6 110.9,610.8 C110.2,611.9 109.6,613.1 108.9,614.2 C108.2,615.4 107.6,616.6 107,617.8 C106.4,618.9 105.7,620.1 105.2,621.3 C104.6,622.5 104,623.7 103.5,624.9 C103,626.1 102.5,627.3 102,628.6 C101.6,629.8 101.1,631 100.7,632.3 C100.4,633.6 100,634.8 99.7,636.1 C99.4,637.4 99.1,638.7 98.9,640 C98.6,641.3 98.4,642.6 98.2,643.9 C98.1,645.2 97.9,646.5 97.8,647.9 C97.7,649.2 97.7,650.6 97.6,651.9 C97.6,653.2 97.6,654.6 97.6,655.9 C97.6,657.3 97.7,658.7 97.8,660" stroke="#111" stroke-width="2.13" fill="none" />
<path d="M95.5,266.5 C95.4,267.9 95.3,269.3 95.3,270.7 C95.2,272.1 95.3,273.5 95.4,274.8 C95.6,276.2 95.8,277.5 96,278.8 C96.3,280.1 96.6,281.4 96.9,282.7 C97.3,283.9 97.7,285.2 98.1,286.4 C98.6,287.7 99.1,288.9 99.6,290.1 C100.1,291.4 100.6,292.6 101.2,293.8 C101.8,295 102.4,296.1 103,297.3 C103.6,298.5 104.2,299.7 104.9,300.9 C105.5,302 106.1,303.2 106.8,304.4 C107.4,305.6 108.1,306.7 108.7,307.9 C109.4,309.1 110.1,310.2 110.7,311.4 C111.4,312.6 112,313.8 112.7,314.9 C113.3,316.1 114,317.3 114.6,318.4 C115.3,319.6 115.9,320.8 116.6,321.9 C117.2,323.1 117.8,324.3 118.5,325.5 C119.1,326.6 119.8,327.8 120.4,329 C121,330.2 121.6,331.4 122.3,332.5 C122.9,333.7 123.5,334.9 124.1,336.1 C124.7,337.3 125.3,338.5 125.9,339.7 C126.5,340.9 127,342.1 127.6,343.3 C128.2,344.5 128.7,345.7 129.3,346.9 C129.8,348.1 130.4,349.3 130.9,350.6 C131.4,351.8 131.9,353 132.4,354.2 C132.9,355.5 133.4,356.7 133.9,358 C134.4,359.2 134.8,360.4 135.3,361.7 C135.8,363 136.2,364.2 136.6,365.5 C137.1,366.7 137.5,368 137.9,369.3 C138.3,370.5 138.7,371.8 139.1,373.1 C139.5,374.4 139.8,375.6 140.2,376.9 C140.6,378.2 140.9,379.5 141.3,380.8 C141.6,382.1 141.9,383.4 142.3,384.7 C142.6,386 142.9,387.3 143.2,388.6 C143.5,389.9 143.8,391.2 144.1,392.5 C144.3,393.8 144.6,395.2 144.9,396.5 C145.1,397.8 145.4,399.1 145.6,400.4 C145.8,401.8 146.1,403.1 146.3,404.4 C146.5,405.7 146.7,407.1 146.9,408.4 C147.1,409.7 147.3,411.1 147.5,412.4 C147.7,413.7 147.8,415.1 148,416.4 C148.1,417.8 148.3,419.1 148.4,420.4 C148.6,421.8 148.7,423.1 148.8,424.5 C149,425.8 149.1,427.2 149.2,428.5 C149.3,429.9 149.4,431.2 149.5,432.5 C149.6,433.9 149.7,435.2 149.7,436.6 C149.8,437.9 149.9,439.3 149.9,440.6 C150,442 150,443.3 150.1,444.7 C150.1,446 150.1,447.4 150.2,448.7 C150.2,450.1 150.2,451.5 150.2,452.8 C150.2,454.2 150.2,455.5 150.2,456.8 C150.2,458.2 150.2,459.5 150.2,460.9 C150.1,462.2 150.1,463.6 150.1,464.9 C150,466.3 150,467.6 149.9,469 C149.9,470.3 149.8,471.7 149.8,473 C149.7,474.3 149.6,475.7 149.5,477 C149.5,478.4 149.4,479.7 149.3,481 C149.2,482.4 149.1,483.7 148.9,485 C148.8,486.4 148.7,487.7 148.6,489 C148.5,490.4 148.3,491.7 148.2,493 C148,494.3 147.9,495.7 147.7,497 C147.6,498.3 147.4,499.6 147.2,500.9 C147,502.3 146.8,503.6 146.6,504.9 C146.4,506.2 146.2,507.5 146,508.8 C145.8,510.1 145.6,511.5 145.4,512.8 C145.1,514.1 144.9,515.4 144.6,516.7 C144.4,518 144.1,519.3 143.9,520.6 C143.6,521.9 143.3,523.2 143,524.5 C142.7,525.7 142.5,527 142.1,528.3 C141.8,529.6 141.5,530.9 141.2,532.2 C140.9,533.5 140.5,534.7 140.2,536 C139.9,537.3 139.5,538.6 139.1,539.8 C138.8,541.1 138.4,542.4 138,543.6 C137.6,544.9 137.2,546.2 136.8,547.4 C136.4,548.7 136,549.9 135.6,551.2 C135.2,552.4 134.7,553.7 134.3,554.9 C133.8,556.2 133.4,557.4 132.9,558.6 C132.4,559.9 132,561.1 131.5,562.4 C131,563.6 130.5,564.8 130,566 C129.4,567.3 128.9,568.5 128.4,569.7 C127.9,570.9 127.3,572.1 126.8,573.3 C126.2,574.5 125.6,575.7 125.1,576.9 C124.5,578.1 123.9,579.3 123.3,580.5 C122.7,581.7 122.1,582.9 121.4,584.1 C120.8,585.3 120.2,586.5 119.5,587.6 C118.9,588.8 118.2,590 117.5,591.2 C116.9,592.3 116.2,593.5 115.5,594.7 C114.8,595.8 114.1,597 113.4,598.1 C112.6,599.3 111.9,600.4 111.2,601.6 C110.5,602.7 109.8,603.9 109.1,605 C108.4,606.2 107.7,607.4 107,608.5 C106.3,609.7 105.6,610.8 105,612 C104.3,613.2 103.7,614.3 103.1,615.5 C102.5,616.7 101.9,617.9 101.3,619.1 C100.8,620.3 100.2,621.5 99.7,622.7 C99.2,623.9 98.8,625.2 98.4,626.4 C98,627.7 97.6,628.9 97.3,630.2 C96.9,631.5 96.7,632.8 96.4,634 C96.2,635.3 96,636.6 95.8,638 C95.7,639.3 95.5,640.6 95.4,641.9 C95.4,643.3 95.3,644.6 95.3,646 C95.3,647.3 95.3,648.7 95.4,650" stroke="#111" stroke-width="1.79" fill="none" />
<line x1="106" y1="303" x2="109.8" y2="307" stroke="#111" stroke-width="1.46"/>
<line x1="106" y1="605" x2="109" y2="609.5" stroke="#111" stroke-width="1.46"/>
<line x1="94.5" y1="650" x2="97.5" y2="650" stroke="#111" stroke-width="1.46"/>
<line x1="97.8" y1="655" x2="97.8" y2="820" stroke="#111" stroke-width="2.13"/>
<path d="M97.8,815 C97.8,816.3 97.8,817.7 97.8,819 C97.9,820.3 97.9,821.7 98,823 C98,824.3 98,825.7 98.1,827 C98.2,828.3 98.3,829.7 98.4,831 C98.5,832.3 98.7,833.6 98.9,834.9 C99.1,836.2 99.3,837.5 99.6,838.8 C99.9,840.1 100.2,841.4 100.6,842.6 C100.9,843.9 101.4,845.1 101.9,846.4 C102.4,847.6 102.9,848.8 103.5,849.9 C104.2,851.1 104.9,852.3 105.6,853.4 C106.4,854.5 107.2,855.6 108.1,856.6 C109,857.7 109.9,858.7 110.9,859.7 C111.8,860.7 112.9,861.6 113.9,862.5 C115,863.4 116.1,864.3 117.2,865.1 C118.3,865.9 119.5,866.7 120.7,867.4 C121.9,868.1 123.1,868.7 124.4,869.3 C125.6,869.9 126.9,870.5 128.2,871 C129.4,871.4 130.7,871.8 132,872.2 C133.3,872.5 134.6,872.8 135.9,873 C137.2,873.2 138.5,873.3 139.8,873.4 C141.1,873.4 142.4,873.4 143.7,873.3 C145,873.2 146.2,873 147.5,872.8 C148.7,872.5 150,872.2 151.2,871.8 C152.4,871.5 153.6,871 154.8,870.5 C156,870 157.1,869.5 158.3,868.9 C159.4,868.3 160.5,867.6 161.6,866.9 C162.6,866.2 163.7,865.4 164.7,864.6 C165.7,863.8 166.6,863 167.6,862.1 C168.5,861.2 169.4,860.3 170.3,859.3 C171.2,858.4 172,857.4 172.8,856.4 C173.7,855.3 174.5,854.3 175.2,853.2 C176,852.2 176.8,851.1 177.5,850 C178.3,848.9 179,847.7 179.7,846.6 C180.4,845.5 181.1,844.3 181.8,843.2 C182.5,842 183.2,840.8 183.9,839.7 C184.6,838.5 185.3,837.3 186,836.2 C186.7,835 187.4,833.8 188.1,832.7 C188.8,831.5 189.5,830.3 190.2,829.2 C190.9,828 191.7,826.9 192.4,825.8 C193.1,824.6 193.8,823.5 194.6,822.4 C195.3,821.2 196.1,820.1 196.8,819 C197.6,817.9 198.4,816.8 199.1,815.7 C199.9,814.6 200.7,813.5 201.5,812.4 C202.3,811.3 203,810.2 203.8,809.1 C204.6,808.1 205.4,807 206.3,805.9 C207.1,804.9 207.9,803.8 208.7,802.8 C209.5,801.7 210.4,800.7 211.2,799.6 C212,798.6 212.9,797.6 213.7,796.5 C214.6,795.5 215.5,794.5 216.3,793.5 C217.2,792.5 218.1,791.5 218.9,790.5 C219.8,789.5 220.7,788.5 221.6,787.5 C222.5,786.5 223.4,785.6 224.3,784.6 C225.2,783.6 226.1,782.7 227.1,781.7 C228,780.8 228.9,779.8 229.9,778.9 C230.8,777.9 231.7,777 232.7,776.1 C233.6,775.2 234.6,774.2 235.6,773.3 C236.5,772.4 237.5,771.5 238.5,770.6 C239.5,769.7 240.5,768.9 241.5,768 C242.5,767.1 243.5,766.2 244.5,765.4 C245.5,764.5 246.5,763.7 247.5,762.8 C248.6,762 249.6,761.1 250.6,760.3 C251.7,759.5 252.7,758.7 253.8,757.8 C254.8,757 255.9,756.2 257,755.4 C258,754.6 259.1,753.9 260.2,753.1 C261.3,752.3 262.4,751.5 263.5,750.8 C264.6,750 265.7,749.2 266.8,748.5 C267.9,747.8 269,747 270.2,746.3 C271.3,745.6 272.4,744.8 273.6,744.1 C274.7,743.4 275.9,742.7 277,742 C278.2,741.4 279.3,740.7 280.5,740 C281.7,739.3 282.8,738.7 284,738 C285.2,737.4 286.4,736.7 287.6,736.1 C288.8,735.4 290,734.8 291.2,734.2 C292.4,733.6 293.6,733 294.8,732.4 C296,731.8 297.2,731.2 298.4,730.6 C299.6,730.1 300.9,729.5 302.1,729 C303.3,728.4 304.6,727.9 305.8,727.3 C307.1,726.8 308.3,726.3 309.5,725.8 C310.8,725.3 312,724.8 313.3,724.3 C314.6,723.8 315.8,723.3 317.1,722.8 C318.3,722.4 319.6,721.9 320.9,721.5 C322.2,721 323.4,720.6 324.7,720.2 C326,719.7 327.3,719.3 328.5,718.9 C329.8,718.5 331.1,718.1 332.4,717.8 C333.7,717.4 335,717 336.3,716.7 C337.6,716.3 338.9,716 340.2,715.6 C341.5,715.3 342.8,715 344.1,714.7 C345.4,714.4 346.7,714.1 348,713.8 C349.3,713.5 350.6,713.3 351.9,713 C353.2,712.7 354.5,712.5 355.8,712.3 C357.1,712 358.5,711.8 359.8,711.6 C361.1,711.4 362.4,711.2 363.7,711 C365,710.9 366.3,710.7 367.7,710.5 C369,710.4 370.3,710.2 371.6,710.1 C372.9,710 374.2,709.9 375.6,709.8 C376.9,709.7 378.2,709.6 379.5,709.5 C380.8,709.4 382.1,709.4 383.5,709.3 C384.8,709.3 386.1,709.2 387.4,709.2 C388.7,709.2 390,709.2 391.4,709.2 C392.7,709.2 394,709.2 395.3,709.2 C396.6,709.3 397.9,709.3 399.2,709.4 C400.5,709.4 401.9,709.5 403.2,709.6 C404.5,709.6 405.8,709.7 407.1,709.8 C408.4,709.9 409.7,710.1 411,710.2 C412.3,710.3 413.6,710.5 414.9,710.6 C416.2,710.8 417.5,710.9 418.8,711.1 C420.1,711.3 421.4,711.5 422.7,711.7 C424,711.9 425.3,712.1 426.6,712.3 C427.9,712.5 429.2,712.8 430.5,713 C431.8,713.3 433.1,713.5 434.4,713.8 C435.7,714.1 437,714.3 438.2,714.6 C439.5,714.9 440.8,715.2 442.1,715.5 C443.4,715.9 444.7,716.2 445.9,716.5 C447.2,716.8 448.5,717.2 449.8,717.6 C451,717.9 452.3,718.3 453.6,718.7 C454.8,719 456.1,719.4 457.4,719.8 C458.6,720.2 459.9,720.6 461.1,721.1 C462.4,721.5 463.7,721.9 464.9,722.3 C466.2,722.8 467.4,723.2 468.7,723.7 C469.9,724.2 471.2,724.6 472.4,725.1 C473.6,725.6 474.9,726.1 476.1,726.6 C477.4,727.1 478.6,727.6 479.8,728.1 C481,728.6 482.3,729.2 483.5,729.7 C484.7,730.2 485.9,730.8 487.2,731.3 C488.4,731.9 489.6,732.5 490.8,733 C492,733.6 493.2,734.2 494.4,734.8 C495.6,735.4 496.8,736 498,736.6 C499.2,737.2 500.4,737.8 501.6,738.5 C502.8,739.1 504,739.7 505.1,740.4 C506.3,741 507.5,741.7 508.7,742.3 C509.8,743 511,743.7 512.2,744.4 C513.3,745 514.5,745.7 515.7,746.4 C516.8,747.1 518,747.8 519.1,748.5 C520.3,749.3 521.4,750 522.5,750.7 C523.7,751.4 524.8,752.2 525.9,752.9 C527.1,753.7 528.2,754.4 529.3,755.2 C530.4,755.9 531.5,756.7 532.6,757.5 C533.8,758.3 534.9,759 536,759.8 C537.1,760.6 538.2,761.4 539.2,762.2 C540.3,763 541.4,763.8 542.5,764.6 C543.6,765.5 544.7,766.3 545.7,767.1 C546.8,768 547.9,768.8 548.9,769.6 C550,770.5 551,771.3 552.1,772.2 C553.1,773.1 554.2,773.9 555.2,774.8 C556.2,775.7 557.3,776.5 558.3,777.4 C559.3,778.3 560.3,779.2 561.3,780.1 C562.4,781 563.4,781.9 564.4,782.8 C565.4,783.7 566.4,784.6 567.4,785.6 C568.3,786.5 569.3,787.4 570.3,788.3 C571.3,789.3 572.3,790.2 573.2,791.2 C574.2,792.1 575.1,793.1 576.1,794 C577,795 578,795.9 578.9,796.9 C579.9,797.9 580.8,798.8 581.7,799.8 C582.6,800.8 583.6,801.8 584.5,802.7 C585.4,803.7 586.3,804.7 587.2,805.7 C588.1,806.7 589,807.7 589.9,808.7 C590.8,809.7 591.6,810.7 592.5,811.8 C593.4,812.8 594.2,813.8 595.1,814.8 C595.9,815.8 596.8,816.9 597.6,817.9 C598.5,818.9 599.3,820 600.1,821 C601,822.1 601.8,823.1 602.6,824.2 C603.4,825.2 604.2,826.3 605,827.3 C605.8,828.4 606.6,829.4 607.4,830.5 C608.2,831.6 608.9,832.7 609.7,833.7 C610.5,834.8 611.2,835.9 612,837 C612.7,838 613.5,839.1 614.2,840.2 C614.9,841.3 615.6,842.4 616.4,843.5 C617.1,844.6 617.8,845.7 618.5,846.8 C619.2,847.9 619.9,849 620.6,850.1 C621.3,851.2 621.9,852.3 622.6,853.4 C623.3,854.5 624,855.6 624.6,856.7 C625.3,857.9 626,859 626.6,860.1 C627.3,861.2 628,862.4 628.6,863.5 C629.3,864.6 629.9,865.7 630.6,866.9 C631.2,868 631.9,869.1 632.5,870.3 C633.2,871.4 633.8,872.5 634.5,873.7 C635.1,874.8 635.7,876 636.4,877.1 C637,878.2 637.7,879.4 638.3,880.5 C639,881.7 639.6,882.8 640.3,884 C640.9,885.1 641.6,886.3 642.3,887.4 C642.9,888.6 643.6,889.7 644.2,890.9 C644.9,892.1 645.6,893.2 646.2,894.4 C646.9,895.5 647.6,896.7 648.3,897.8 C649,899 649.7,900.1 650.5,901.2 C651.2,902.3 652,903.4 652.8,904.4 C653.6,905.5 654.5,906.5 655.4,907.4 C656.3,908.4 657.3,909.3 658.3,910.1 C659.3,911 660.3,911.8 661.5,912.5 C662.6,913.2 663.7,913.9 664.9,914.5 C666.1,915.1 667.4,915.7 668.6,916.2 C669.9,916.6 671.2,917.1 672.5,917.4 C673.9,917.7 675.2,918 676.6,918.2 C678,918.4 679.4,918.6 680.8,918.6 C682.2,918.7 683.6,918.7 684.9,918.6 C686.3,918.6 687.7,918.4 689,918.2 C690.3,918 691.7,917.7 692.9,917.3 C694.2,917 695.5,916.5 696.7,916 C697.9,915.5 699,915 700.2,914.4 C701.3,913.7 702.4,913 703.5,912.3 C704.5,911.6 705.6,910.8 706.5,909.9 C707.5,909.1 708.5,908.2 709.3,907.2 C710.2,906.3 711.1,905.3 711.9,904.3 C712.7,903.2 713.4,902.2 714.2,901.1 C714.9,899.9 715.5,898.8 716.1,897.6 C716.7,896.4 717.3,895.2 717.8,894 C718.3,892.7 718.7,891.5 719.1,890.2 C719.5,888.9 719.9,887.5 720.2,886.2 C720.5,884.9 720.7,883.5 720.9,882.2 C721.1,880.8 721.2,879.4 721.4,878.1 C721.5,876.7 721.6,875.3 721.6,874 C721.7,872.6 721.7,871.2 721.7,869.9 C721.7,868.5 721.7,867.2 721.6,865.9 C721.6,864.6 721.5,863.3 721.5,862" stroke="#111" stroke-width="2.13" fill="none" />
<path d="M95,827 C95,828.3 94.9,829.7 94.9,831 C94.9,832.4 95,833.7 95.1,835.1 C95.2,836.4 95.4,837.7 95.6,839 C95.8,840.3 96.1,841.6 96.4,842.9 C96.8,844.2 97.1,845.5 97.6,846.7 C98,848 98.4,849.2 99,850.5 C99.5,851.7 100,852.9 100.7,854.1 C101.3,855.3 101.9,856.4 102.6,857.6 C103.3,858.7 104,859.8 104.8,860.9 C105.6,862 106.4,863.1 107.3,864.1 C108.2,865.1 109.1,866.1 110,867.1 C111,868 112,869 113,869.9 C114,870.8 115.1,871.6 116.2,872.5 C117.3,873.3 118.4,874.1 119.6,874.8 C120.7,875.6 121.9,876.3 123.1,876.9 C124.3,877.6 125.6,878.2 126.8,878.8 C128.1,879.4 129.3,879.9 130.6,880.4 C131.9,880.9 133.2,881.3 134.5,881.7 C135.9,882.1 137.2,882.4 138.5,882.7 C139.8,883 141.2,883.2 142.5,883.4 C143.8,883.5 145.2,883.7 146.5,883.7 C147.8,883.8 149.2,883.8 150.5,883.7 C151.8,883.7 153.1,883.5 154.4,883.4 C155.7,883.2 157,882.9 158.3,882.6 C159.5,882.3 160.8,882 162,881.6 C163.2,881.2 164.4,880.7 165.6,880.2 C166.8,879.7 168,879.1 169.1,878.5 C170.3,877.9 171.4,877.2 172.5,876.5 C173.5,875.8 174.6,875.1 175.6,874.3 C176.7,873.5 177.6,872.7 178.6,871.8 C179.6,871 180.5,870.1 181.4,869.2 C182.3,868.2 183.1,867.3 183.9,866.3 C184.8,865.3 185.5,864.3 186.3,863.3 C187.1,862.3 187.8,861.2 188.6,860.1 C189.3,859.1 190,858 190.7,856.9 C191.4,855.8 192.1,854.7 192.7,853.5 C193.4,852.4 194.1,851.3 194.7,850.1 C195.4,849 196,847.8 196.7,846.7 C197.4,845.5 198,844.3 198.7,843.2 C199.4,842 200,840.9 200.7,839.7 C201.4,838.6 202.1,837.5 202.8,836.3 C203.5,835.2 204.2,834.1 204.9,832.9 C205.7,831.8 206.4,830.7 207.1,829.6 C207.9,828.4 208.6,827.3 209.4,826.2 C210.2,825.1 210.9,824 211.7,822.9 C212.5,821.8 213.3,820.8 214.1,819.7 C214.9,818.6 215.7,817.5 216.5,816.4 C217.3,815.4 218.1,814.3 219,813.2 C219.8,812.2 220.7,811.1 221.5,810.1 C222.4,809 223.2,808 224.1,807 C225,805.9 225.8,804.9 226.7,803.9 C227.6,802.9 228.5,801.9 229.4,800.8 C230.3,799.8 231.2,798.8 232.1,797.8 C233,796.9 234,795.9 234.9,794.9 C235.8,793.9 236.8,792.9 237.7,792 C238.7,791 239.6,790 240.6,789.1 C241.6,788.1 242.5,787.2 243.5,786.3 C244.5,785.3 245.5,784.4 246.5,783.5 C247.5,782.6 248.5,781.6 249.5,780.7 C250.5,779.8 251.5,778.9 252.5,778 C253.6,777.2 254.6,776.3 255.6,775.4 C256.6,774.5 257.7,773.7 258.7,772.8 C259.8,772 260.8,771.1 261.9,770.3 C263,769.4 264,768.6 265.1,767.8 C266.2,766.9 267.3,766.1 268.3,765.3 C269.4,764.5 270.5,763.7 271.6,762.9 C272.7,762.1 273.8,761.4 274.9,760.6 C276,759.8 277.2,759.1 278.3,758.3 C279.4,757.6 280.5,756.8 281.7,756.1 C282.8,755.4 283.9,754.6 285.1,753.9 C286.2,753.2 287.4,752.5 288.5,751.8 C289.7,751.1 290.8,750.4 292,749.7 C293.2,749.1 294.3,748.4 295.5,747.8 C296.7,747.1 297.8,746.5 299,745.8 C300.2,745.2 301.4,744.6 302.6,743.9 C303.8,743.3 305,742.7 306.2,742.1 C307.4,741.5 308.6,740.9 309.8,740.4 C311,739.8 312.2,739.2 313.4,738.7 C314.6,738.1 315.9,737.6 317.1,737.1 C318.3,736.5 319.5,736 320.8,735.5 C322,735 323.2,734.5 324.5,734 C325.7,733.5 327,733.1 328.2,732.6 C329.4,732.1 330.7,731.7 331.9,731.2 C333.2,730.8 334.5,730.4 335.7,730 C337,729.5 338.2,729.1 339.5,728.7 C340.8,728.3 342,728 343.3,727.6 C344.6,727.2 345.8,726.9 347.1,726.5 C348.4,726.2 349.7,725.8 350.9,725.5 C352.2,725.2 353.5,724.9 354.8,724.6 C356.1,724.3 357.4,724 358.6,723.7 C359.9,723.5 361.2,723.2 362.5,723 C363.8,722.7 365.1,722.5 366.4,722.3 C367.7,722.1 369,721.9 370.3,721.7 C371.6,721.5 372.9,721.3 374.2,721.1 C375.5,721 376.8,720.8 378.1,720.7 C379.4,720.5 380.7,720.4 382,720.3 C383.3,720.2 384.6,720.1 385.9,720 C387.2,719.9 388.5,719.8 389.9,719.8 C391.2,719.7 392.5,719.7 393.8,719.6 C395.1,719.6 396.4,719.6 397.7,719.6 C399,719.6 400.4,719.6 401.7,719.6 C403,719.6 404.3,719.7 405.6,719.7 C406.9,719.8 408.2,719.9 409.5,719.9 C410.9,720 412.2,720.1 413.5,720.2 C414.8,720.3 416.1,720.4 417.4,720.6 C418.7,720.7 420,720.9 421.4,721 C422.7,721.2 424,721.4 425.3,721.5 C426.6,721.7 427.9,721.9 429.2,722.1 C430.5,722.3 431.8,722.6 433.1,722.8 C434.4,723 435.7,723.3 437,723.6 C438.3,723.8 439.7,724.1 440.9,724.4 C442.2,724.7 443.5,725 444.8,725.3 C446.1,725.6 447.4,725.9 448.7,726.2 C450,726.6 451.3,726.9 452.6,727.3 C453.9,727.6 455.2,728 456.5,728.4 C457.7,728.7 459,729.1 460.3,729.5 C461.6,729.9 462.9,730.3 464.1,730.8 C465.4,731.2 466.7,731.6 468,732.1 C469.2,732.5 470.5,733 471.7,733.4 C473,733.9 474.3,734.4 475.5,734.8 C476.8,735.3 478,735.8 479.3,736.3 C480.5,736.8 481.8,737.3 483,737.9 C484.3,738.4 485.5,738.9 486.7,739.5 C488,740 489.2,740.6 490.4,741.1 C491.7,741.7 492.9,742.3 494.1,742.9 C495.3,743.4 496.6,744 497.8,744.6 C499,745.2 500.2,745.8 501.4,746.4 C502.6,747.1 503.8,747.7 505,748.3 C506.2,749 507.4,749.6 508.5,750.3 C509.7,750.9 510.9,751.6 512.1,752.2 C513.3,752.9 514.4,753.6 515.6,754.3 C516.8,755 517.9,755.7 519.1,756.4 C520.2,757.1 521.4,757.8 522.5,758.5 C523.7,759.2 524.8,759.9 525.9,760.6 C527.1,761.4 528.2,762.1 529.3,762.9 C530.4,763.6 531.5,764.4 532.6,765.1 C533.7,765.9 534.8,766.7 535.9,767.4 C537,768.2 538.1,769 539.2,769.8 C540.3,770.6 541.4,771.4 542.4,772.2 C543.5,773 544.6,773.8 545.6,774.6 C546.7,775.4 547.7,776.2 548.8,777.1 C549.8,777.9 550.9,778.7 551.9,779.6 C552.9,780.4 554,781.3 555,782.1 C556,783 557,783.8 558,784.7 C559,785.6 560,786.5 561,787.3 C562,788.2 563,789.1 564,790 C565,790.9 566,791.8 566.9,792.7 C567.9,793.6 568.9,794.5 569.8,795.5 C570.8,796.4 571.7,797.3 572.7,798.3 C573.6,799.2 574.5,800.1 575.5,801.1 C576.4,802 577.3,803 578.2,803.9 C579.2,804.9 580.1,805.9 581,806.8 C581.9,807.8 582.8,808.8 583.7,809.8 C584.5,810.8 585.4,811.8 586.3,812.8 C587.2,813.7 588,814.8 588.9,815.8 C589.8,816.8 590.6,817.8 591.5,818.8 C592.3,819.8 593.1,820.9 594,821.9 C594.8,822.9 595.6,824 596.5,825 C597.3,826 598.1,827.1 598.9,828.1 C599.7,829.2 600.5,830.3 601.3,831.3 C602.1,832.4 602.9,833.5 603.6,834.6 C604.4,835.6 605.2,836.7 605.9,837.8 C606.7,838.9 607.4,840 608.2,841.1 C608.9,842.2 609.7,843.3 610.4,844.4 C611.1,845.5 611.9,846.6 612.6,847.8 C613.3,848.9 614,850 614.7,851.1 C615.4,852.3 616.1,853.4 616.8,854.5 C617.5,855.7 618.2,856.8 618.8,858 C619.5,859.1 620.2,860.3 620.9,861.4 C621.5,862.6 622.2,863.8 622.9,864.9 C623.5,866.1 624.2,867.2 624.9,868.4 C625.5,869.6 626.2,870.7 626.9,871.9 C627.5,873 628.2,874.2 628.9,875.4 C629.5,876.5 630.2,877.7 630.9,878.8 C631.6,880 632.3,881.1 632.9,882.3 C633.6,883.4 634.3,884.6 635,885.7 C635.7,886.9 636.4,888 637.2,889.1 C637.9,890.3 638.6,891.4 639.3,892.5 C640.1,893.7 640.8,894.8 641.6,895.9 C642.3,897 643.1,898.1 643.9,899.2 C644.7,900.3 645.5,901.4 646.3,902.4 C647.1,903.5 647.9,904.6 648.8,905.6 C649.7,906.6 650.5,907.7 651.5,908.7 C652.4,909.6 653.3,910.6 654.3,911.6 C655.2,912.5 656.2,913.4 657.2,914.3 C658.2,915.2 659.3,916 660.3,916.8 C661.4,917.7 662.5,918.4 663.6,919.2 C664.7,919.9 665.8,920.6 666.9,921.3 C668,922 669.2,922.6 670.3,923.2 C671.5,923.8 672.7,924.3 673.9,924.8 C675.1,925.3 676.3,925.7 677.5,926.1 C678.7,926.5 679.9,926.9 681.2,927.1 C682.4,927.4 683.7,927.7 684.9,927.8 C686.2,928 687.4,928.1 688.7,928.2 C690,928.2 691.3,928.2 692.5,928.2 C693.8,928.1 695.1,928 696.4,927.8 C697.7,927.6 699,927.4 700.2,927.1 C701.5,926.8 702.8,926.4 704,926 C705.3,925.6 706.5,925.2 707.8,924.7 C709,924.2 710.2,923.6 711.4,923 C712.6,922.4 713.8,921.8 715,921.1 C716.2,920.4 717.3,919.7 718.4,918.9 C719.6,918.1 720.7,917.3 721.7,916.4 C722.8,915.6 723.8,914.7 724.8,913.8 C725.8,912.8 726.8,911.9 727.7,910.9 C728.7,909.9 729.6,908.8 730.4,907.8 C731.3,906.7 732.1,905.6 732.9,904.5 C733.6,903.4 734.3,902.3 735,901.1 C735.7,899.9 736.3,898.7 736.9,897.5 C737.5,896.3 738,895 738.4,893.8 C738.9,892.5 739.3,891.2 739.7,889.9 C740.1,888.7 740.4,887.3 740.7,886 C741,884.7 741.2,883.4 741.4,882 C741.6,880.7 741.8,879.4 741.9,878 C742.1,876.7 742.2,875.3 742.2,874 C742.3,872.6 742.3,871.3 742.3,870 C742.3,868.6 742.3,867.3 742.2,865.9 C742.2,864.6 742.1,863.3 742,862" stroke="#111" stroke-width="2.13" fill="none" />
<path d="M165.1,882.1 C166.3,881.7 167.6,881.4 168.9,880.9 C170.1,880.5 171.3,879.9 172.5,879.4 C173.6,878.8 174.8,878.1 175.8,877.4 C176.9,876.7 178,876 179,875.2 C180,874.4 181,873.5 182,872.7 C182.9,871.8 183.9,870.8 184.8,869.9 C185.7,869 186.6,868 187.4,867 C188.3,866 189.2,864.9 190,863.9 C190.9,862.9 191.7,861.8 192.5,860.7 C193.3,859.6 194.1,858.6 194.9,857.5 C195.7,856.4 196.5,855.3 197.3,854.2 C198.1,853.1 198.9,852 199.7,850.9 C200.4,849.8 201.2,848.7 202,847.6 C202.8,846.5 203.5,845.4 204.3,844.3 C205,843.1 205.8,842 206.6,840.9 C207.3,839.8 208.1,838.7 208.8,837.6 C209.6,836.5 210.4,835.3 211.1,834.2 C211.9,833.1 212.6,832 213.4,830.9 C214.2,829.8 214.9,828.6 215.7,827.5 C216.5,826.4 217.2,825.3 218,824.2 C218.8,823.1 219.6,822 220.3,820.9 C221.1,819.8 221.9,818.7 222.7,817.6 C223.5,816.5 224.3,815.4 225.1,814.4 C225.9,813.3 226.7,812.2 227.6,811.1 C228.4,810.1 229.2,809 230,808 C230.9,806.9 231.7,805.9 232.6,804.8 C233.4,803.8 234.3,802.7 235.2,801.7 C236.1,800.7 236.9,799.6 237.8,798.6 C238.7,797.6 239.6,796.6 240.5,795.6 C241.4,794.6 242.3,793.6 243.2,792.6 C244.1,791.6 245.1,790.7 246,789.7 C246.9,788.7 247.9,787.7 248.8,786.8 C249.8,785.8 250.7,784.9 251.7,783.9 C252.6,783 253.6,782.1 254.6,781.1 C255.6,780.2 256.5,779.3 257.5,778.4 C258.5,777.5 259.5,776.6 260.5,775.7 C261.5,774.8 262.5,773.9 263.6,773 C264.6,772.1 265.6,771.3 266.6,770.4 C267.7,769.6 268.7,768.7 269.8,767.9 C270.8,767 271.9,766.2 272.9,765.4 C274,764.5 275,763.7 276.1,762.9 C277.2,762.1 278.3,761.3 279.4,760.6 C280.4,759.8 281.5,759 282.6,758.2 C283.7,757.5 284.8,756.7 285.9,756 C287.1,755.2 288.2,754.5 289.3,753.8 C290.4,753 291.6,752.3 292.7,751.6 C293.8,750.9 295,750.2 296.1,749.5 C297.3,748.9 298.4,748.2 299.6,747.5 C300.7,746.9 301.9,746.2 303.1,745.6 C304.3,744.9 305.4,744.3 306.6,743.7 C307.8,743.1 309,742.5 310.2,741.9 C311.4,741.3 312.6,740.7 313.8,740.1 C315,739.6 316.2,739 317.4,738.5 C318.7,737.9 319.9,737.4 321.1,736.9 C322.4,736.3 323.6,735.8 324.8,735.3 C326.1,734.8 327.3,734.4 328.6,733.9 C329.8,733.4 331.1,733 332.3,732.5 C333.6,732.1 334.9,731.6 336.2,731.2 C337.4,730.8 338.7,730.4 340,730" stroke="#111" stroke-width="1.68" fill="none" />
<path d="M711,924 C716.3,918.6 722.9,913.7 727,907.7 C730.9,902 734,894.8 735.5,889 C736.7,884.4 736.2,880.4 736.4,876 C736.6,871.4 736.4,866.7 736.4,862" stroke="#111" stroke-width="1.57" fill="none" />
<line x1="131" y1="872" x2="133" y2="880" stroke="#111" stroke-width="1.68"/>
<line x1="145.3" y1="873.3" x2="150" y2="883.3" stroke="#111" stroke-width="1.68"/>
<path d="M173.3,856 C176.2,857.3 178.9,859 182,860 C185.2,861 188.7,861.3 192,862" stroke="#111" stroke-width="1.68" fill="none" />
<line x1="642" y1="895" x2="645.8" y2="897" stroke="#111" stroke-width="1.68"/>
<line x1="673" y1="916.4" x2="675.5" y2="926.3" stroke="#111" stroke-width="1.68"/>
<line x1="686.5" y1="917.6" x2="690" y2="927" stroke="#111" stroke-width="1.68"/>
<line x1="721" y1="876" x2="742" y2="875" stroke="#111" stroke-width="1.68"/>
<path d="M721,300 C721.1,301.3 721.2,302.7 721.2,304.1 C721.2,305.4 721.2,306.8 721.1,308.1 C721.1,309.5 721,310.8 720.8,312.1 C720.7,313.4 720.5,314.8 720.3,316.1 C720.2,317.4 719.9,318.7 719.7,319.9 C719.4,321.2 719.2,322.5 718.9,323.8 C718.6,325 718.2,326.3 717.9,327.6 C717.5,328.8 717.1,330.1 716.7,331.3 C716.3,332.6 715.9,333.8 715.5,335 C715,336.3 714.6,337.5 714.1,338.7 C713.6,340 713.1,341.2 712.6,342.4 C712.1,343.6 711.6,344.8 711,346.1 C710.5,347.3 709.9,348.5 709.4,349.7 C708.8,350.9 708.2,352.1 707.7,353.3 C707.1,354.5 706.5,355.7 705.9,356.9 C705.3,358.1 704.7,359.3 704.1,360.5 C703.5,361.7 702.9,362.9 702.2,364.2 C701.6,365.4 701,366.6 700.4,367.8 C699.8,369 699.2,370.2 698.5,371.4 C697.9,372.6 697.3,373.8 696.7,375.1 C696.1,376.3 695.5,377.5 694.9,378.7 C694.3,380 693.7,381.2 693.1,382.4 C692.6,383.7 692,384.9 691.4,386.1 C690.8,387.4 690.3,388.6 689.7,389.9 C689.2,391.1 688.6,392.4 688.1,393.6 C687.5,394.9 687,396.2 686.5,397.4 C686,398.7 685.4,400 684.9,401.2 C684.4,402.5 683.9,403.8 683.4,405 C682.9,406.3 682.4,407.6 682,408.9 C681.5,410.2 681,411.4 680.6,412.7 C680.1,414 679.7,415.3 679.2,416.6 C678.8,417.9 678.3,419.2 677.9,420.5 C677.5,421.8 677.1,423.1 676.7,424.4 C676.3,425.7 675.9,427 675.5,428.3 C675.1,429.6 674.7,430.9 674.3,432.2 C674,433.5 673.6,434.9 673.2,436.2 C672.9,437.5 672.6,438.8 672.2,440.1 C671.9,441.4 671.6,442.8 671.3,444.1 C670.9,445.4 670.6,446.7 670.4,448 C670.1,449.4 669.8,450.7 669.5,452 C669.2,453.3 669,454.7 668.7,456 C668.5,457.3 668.2,458.7 668,460 C667.8,461.3 667.6,462.6 667.4,464 C667.2,465.3 667,466.6 666.8,468 C666.6,469.3 666.4,470.6 666.3,472 C666.1,473.3 666,474.6 665.8,476 C665.7,477.3 665.6,478.6 665.5,480 C665.3,481.3 665.2,482.6 665.2,484 C665.1,485.3 665,486.6 664.9,488 C664.9,489.3 664.8,490.6 664.8,492 C664.7,493.3 664.7,494.6 664.7,496 C664.7,497.3 664.7,498.6 664.7,499.9 C664.7,501.3 664.7,502.6 664.7,503.9 C664.8,505.3 664.8,506.6 664.9,507.9 C665,509.2 665,510.6 665.1,511.9 C665.2,513.2 665.3,514.5 665.4,515.8 C665.6,517.2 665.7,518.5 665.8,519.8 C666,521.1 666.1,522.4 666.3,523.8 C666.4,525.1 666.6,526.4 666.8,527.7 C667,529 667.2,530.3 667.4,531.6 C667.6,532.9 667.9,534.3 668.1,535.6 C668.3,536.9 668.6,538.2 668.8,539.5 C669.1,540.8 669.3,542.1 669.6,543.4 C669.9,544.7 670.2,546 670.5,547.3 C670.8,548.6 671.1,549.9 671.4,551.2 C671.7,552.5 672,553.8 672.3,555.1 C672.7,556.4 673,557.7 673.4,559 C673.7,560.3 674.1,561.6 674.4,562.9 C674.8,564.2 675.2,565.5 675.5,566.8 C675.9,568.1 676.3,569.4 676.7,570.6 C677.1,571.9 677.5,573.2 677.9,574.5 C678.3,575.8 678.7,577.1 679.1,578.4 C679.5,579.6 680,580.9 680.4,582.2 C680.8,583.5 681.3,584.8 681.7,586.1 C682.1,587.3 682.6,588.6 683,589.9 C683.5,591.2 684,592.5 684.4,593.7 C684.9,595 685.3,596.3 685.8,597.6 C686.3,598.8 686.7,600.1 687.2,601.4 C687.7,602.7 688.2,603.9 688.7,605.2 C689.1,606.5 689.6,607.7 690.1,609 C690.6,610.3 691.1,611.6 691.6,612.8 C692.1,614.1 692.6,615.4 693.1,616.6 C693.6,617.9 694.1,619.2 694.6,620.4 C695.1,621.7 695.6,622.9 696.1,624.2 C696.6,625.5 697.1,626.7 697.6,628 C698.1,629.2 698.6,630.5 699.1,631.8 C699.6,633 700.1,634.3 700.6,635.5 C701.2,636.8 701.7,638.1 702.2,639.3 C702.7,640.6 703.2,641.8 703.7,643.1 C704.2,644.3 704.7,645.6 705.2,646.8 C705.7,648.1 706.2,649.3 706.7,650.6 C707.2,651.8 707.7,653.1 708.2,654.3 C708.7,655.6 709.2,656.8 709.6,658.1 C710.1,659.3 710.6,660.6 711.1,661.8 C711.6,663 712.1,664.3 712.5,665.5 C713,666.8 713.4,668 713.9,669.3 C714.3,670.5 714.8,671.8 715.2,673 C715.6,674.3 716,675.5 716.4,676.8 C716.8,678.1 717.2,679.3 717.6,680.6 C717.9,681.8 718.3,683.1 718.6,684.4 C718.9,685.7 719.2,686.9 719.5,688.2 C719.8,689.5 720.1,690.8 720.3,692.1 C720.5,693.4 720.7,694.7 720.9,696 C721.1,697.3 721.2,698.6 721.3,699.9 C721.5,701.2 721.6,702.6 721.6,703.9 C721.7,705.2 721.7,706.6 721.7,707.9 C721.7,709.3 721.6,710.6 721.5,712" stroke="#111" stroke-width="2.13" fill="none" />
<path d="M736.5,300 C736.5,301.3 736.6,302.7 736.6,304 C736.6,305.4 736.6,306.7 736.6,308 C736.6,309.4 736.5,310.7 736.4,312 C736.4,313.4 736.3,314.7 736.1,316 C736,317.3 735.9,318.7 735.7,320 C735.5,321.3 735.3,322.6 735.1,323.9 C734.9,325.2 734.6,326.5 734.3,327.8 C734,329.1 733.7,330.4 733.4,331.6 C733.1,332.9 732.7,334.2 732.4,335.4 C732,336.7 731.6,338 731.1,339.2 C730.7,340.4 730.2,341.7 729.8,342.9 C729.3,344.1 728.8,345.3 728.2,346.5 C727.7,347.7 727.1,348.9 726.5,350.1 C725.9,351.3 725.3,352.4 724.7,353.6 C724,354.8 723.4,355.9 722.7,357 C722.1,358.2 721.4,359.3 720.7,360.5 C720.1,361.6 719.4,362.7 718.7,363.9 C718,365 717.4,366.1 716.7,367.3 C716,368.4 715.3,369.5 714.7,370.6 C714,371.8 713.3,372.9 712.6,374 C712,375.2 711.3,376.3 710.7,377.5 C710,378.6 709.4,379.7 708.7,380.9 C708.1,382.1 707.4,383.2 706.8,384.4 C706.2,385.5 705.6,386.7 705,387.9 C704.4,389.1 703.8,390.3 703.2,391.5 C702.6,392.7 702.1,393.9 701.5,395.1 C700.9,396.3 700.4,397.5 699.9,398.7 C699.3,399.9 698.8,401.1 698.3,402.4 C697.8,403.6 697.2,404.8 696.8,406.1 C696.3,407.3 695.8,408.6 695.3,409.8 C694.8,411.1 694.4,412.3 693.9,413.6 C693.4,414.9 693,416.1 692.6,417.4 C692.1,418.7 691.7,420 691.3,421.3 C690.9,422.5 690.5,423.8 690.1,425.1 C689.7,426.4 689.3,427.7 689,429 C688.6,430.3 688.2,431.6 687.9,432.9 C687.6,434.2 687.2,435.5 686.9,436.8 C686.6,438.1 686.3,439.5 686,440.8 C685.7,442.1 685.4,443.4 685.1,444.7 C684.8,446.1 684.5,447.4 684.3,448.7 C684,450.1 683.8,451.4 683.5,452.7 C683.3,454.1 683.1,455.4 682.9,456.7 C682.6,458.1 682.4,459.4 682.3,460.7 C682.1,462.1 681.9,463.4 681.7,464.8 C681.5,466.1 681.4,467.5 681.2,468.8 C681.1,470.1 681,471.5 680.8,472.8 C680.7,474.2 680.6,475.5 680.5,476.9 C680.4,478.2 680.3,479.6 680.2,480.9 C680.1,482.3 680.1,483.6 680,485 C680,486.3 679.9,487.6 679.9,489 C679.9,490.3 679.8,491.7 679.8,493 C679.8,494.4 679.8,495.7 679.8,497 C679.8,498.4 679.9,499.7 679.9,501.1 C679.9,502.4 680,503.7 680,505.1 C680.1,506.4 680.2,507.7 680.2,509.1 C680.3,510.4 680.4,511.7 680.5,513.1 C680.6,514.4 680.7,515.7 680.9,517 C681,518.4 681.1,519.7 681.3,521 C681.4,522.3 681.6,523.6 681.8,524.9 C681.9,526.2 682.1,527.6 682.3,528.9 C682.5,530.2 682.7,531.5 682.9,532.8 C683.1,534.1 683.4,535.4 683.6,536.7 C683.8,538 684.1,539.3 684.3,540.6 C684.6,541.9 684.8,543.2 685.1,544.5 C685.4,545.8 685.6,547.1 685.9,548.4 C686.2,549.7 686.5,550.9 686.8,552.2 C687.1,553.5 687.4,554.8 687.7,556.1 C688.1,557.4 688.4,558.7 688.7,559.9 C689.1,561.2 689.4,562.5 689.8,563.8 C690.1,565 690.5,566.3 690.8,567.6 C691.2,568.9 691.6,570.1 692,571.4 C692.3,572.7 692.7,574 693.1,575.2 C693.5,576.5 693.9,577.8 694.3,579 C694.7,580.3 695.1,581.6 695.5,582.8 C696,584.1 696.4,585.4 696.8,586.6 C697.2,587.9 697.7,589.1 698.1,590.4 C698.6,591.7 699,592.9 699.5,594.2 C699.9,595.4 700.4,596.7 700.8,597.9 C701.3,599.2 701.8,600.4 702.2,601.7 C702.7,603 703.2,604.2 703.6,605.5 C704.1,606.7 704.6,608 705.1,609.2 C705.6,610.5 706.1,611.7 706.6,613 C707.1,614.2 707.5,615.4 708,616.7 C708.5,617.9 709.1,619.2 709.6,620.4 C710.1,621.7 710.6,622.9 711.1,624.2 C711.6,625.4 712.1,626.6 712.6,627.9 C713.1,629.1 713.7,630.4 714.2,631.6 C714.7,632.9 715.2,634.1 715.8,635.3 C716.3,636.6 716.8,637.8 717.3,639.1 C717.9,640.3 718.4,641.5 718.9,642.8 C719.4,644 720,645.3 720.5,646.5 C721,647.7 721.5,649 722.1,650.2 C722.6,651.5 723.1,652.7 723.6,653.9 C724.1,655.2 724.6,656.4 725.1,657.7 C725.6,658.9 726.1,660.2 726.5,661.4 C727,662.7 727.5,663.9 727.9,665.2 C728.4,666.4 728.8,667.7 729.3,668.9 C729.7,670.2 730.1,671.5 730.5,672.7 C730.9,674 731.3,675.3 731.7,676.5 C732,677.8 732.4,679.1 732.7,680.4 C733.1,681.6 733.4,682.9 733.7,684.2 C734,685.5 734.3,686.8 734.5,688.1 C734.8,689.4 735,690.7 735.2,692 C735.4,693.3 735.6,694.6 735.8,695.9 C735.9,697.2 736.1,698.6 736.2,699.9 C736.3,701.2 736.4,702.5 736.4,703.9 C736.5,705.2 736.5,706.6 736.5,707.9 C736.5,709.3 736.4,710.6 736.4,712" stroke="#111" stroke-width="1.79" fill="none" />
<path d="M742.3,300 C742.3,301.3 742.4,302.7 742.4,304 C742.4,305.3 742.4,306.7 742.4,308 C742.4,309.4 742.3,310.7 742.2,312 C742.2,313.4 742.1,314.7 741.9,316 C741.8,317.3 741.7,318.7 741.5,320 C741.3,321.3 741.1,322.6 740.9,323.9 C740.7,325.3 740.5,326.6 740.2,327.9 C739.9,329.2 739.6,330.5 739.3,331.8 C739,333 738.7,334.3 738.3,335.6 C737.9,336.9 737.5,338.1 737.1,339.4 C736.7,340.6 736.3,341.9 735.8,343.1 C735.3,344.3 734.8,345.6 734.3,346.8 C733.8,348 733.2,349.2 732.7,350.4 C732.1,351.6 731.5,352.7 730.9,353.9 C730.3,355.1 729.7,356.3 729,357.4 C728.4,358.6 727.8,359.7 727.1,360.9 C726.5,362 725.8,363.2 725.2,364.3 C724.5,365.4 723.9,366.6 723.2,367.7 C722.6,368.9 721.9,370 721.3,371.1 C720.6,372.3 720,373.4 719.3,374.5 C718.7,375.7 718.1,376.8 717.4,378 C716.8,379.1 716.2,380.3 715.5,381.4 C714.9,382.6 714.3,383.7 713.7,384.9 C713.1,386.1 712.5,387.3 711.9,388.4 C711.3,389.6 710.7,390.8 710.2,392 C709.6,393.2 709,394.4 708.5,395.6 C707.9,396.8 707.4,398 706.8,399.3 C706.3,400.5 705.8,401.7 705.3,403 C704.7,404.2 704.2,405.4 703.7,406.7 C703.2,407.9 702.8,409.2 702.3,410.4 C701.8,411.7 701.3,412.9 700.9,414.2 C700.4,415.5 700,416.7 699.5,418 C699.1,419.3 698.7,420.6 698.2,421.8 C697.8,423.1 697.4,424.4 697,425.7 C696.6,427 696.2,428.3 695.8,429.6 C695.5,430.9 695.1,432.2 694.7,433.5 C694.4,434.8 694,436.1 693.7,437.4 C693.3,438.7 693,440 692.7,441.4 C692.4,442.7 692.1,444 691.8,445.3 C691.5,446.6 691.2,448 690.9,449.3 C690.6,450.6 690.4,452 690.1,453.3 C689.9,454.6 689.6,455.9 689.4,457.3 C689.2,458.6 688.9,460 688.7,461.3 C688.5,462.6 688.3,464 688.1,465.3 C687.9,466.6 687.8,468 687.6,469.3 C687.4,470.7 687.3,472 687.1,473.4 C687,474.7 686.8,476 686.7,477.4 C686.6,478.7 686.5,480.1 686.4,481.4 C686.3,482.8 686.2,484.1 686.1,485.4 C686.1,486.8 686,488.1 685.9,489.5 C685.9,490.8 685.9,492.2 685.8,493.5 C685.8,494.8 685.8,496.2 685.8,497.5 C685.8,498.8 685.8,500.2 685.8,501.5 C685.8,502.8 685.8,504.2 685.9,505.5 C685.9,506.8 686,508.2 686.1,509.5 C686.1,510.8 686.2,512.1 686.3,513.5 C686.4,514.8 686.5,516.1 686.6,517.4 C686.7,518.8 686.9,520.1 687,521.4 C687.1,522.7 687.3,524 687.5,525.3 C687.6,526.6 687.8,527.9 688,529.2 C688.2,530.5 688.4,531.8 688.6,533.1 C688.8,534.5 689,535.8 689.2,537 C689.4,538.3 689.7,539.6 689.9,540.9 C690.2,542.2 690.4,543.5 690.7,544.8 C691,546.1 691.2,547.4 691.5,548.7 C691.8,550 692.1,551.3 692.4,552.5 C692.7,553.8 693,555.1 693.3,556.4 C693.6,557.7 694,558.9 694.3,560.2 C694.6,561.5 695,562.8 695.3,564.1 C695.7,565.3 696.1,566.6 696.4,567.9 C696.8,569.1 697.2,570.4 697.5,571.7 C697.9,573 698.3,574.2 698.7,575.5 C699.1,576.8 699.5,578 699.9,579.3 C700.3,580.5 700.7,581.8 701.2,583.1 C701.6,584.3 702,585.6 702.4,586.8 C702.9,588.1 703.3,589.4 703.8,590.6 C704.2,591.9 704.7,593.1 705.1,594.4 C705.6,595.6 706,596.9 706.5,598.2 C707,599.4 707.4,600.7 707.9,601.9 C708.4,603.2 708.9,604.4 709.4,605.7 C709.8,606.9 710.3,608.2 710.8,609.4 C711.3,610.7 711.8,611.9 712.3,613.1 C712.8,614.4 713.3,615.6 713.8,616.9 C714.3,618.1 714.8,619.4 715.3,620.6 C715.9,621.9 716.4,623.1 716.9,624.3 C717.4,625.6 717.9,626.8 718.5,628.1 C719,629.3 719.5,630.6 720,631.8 C720.6,633 721.1,634.3 721.6,635.5 C722.1,636.8 722.7,638 723.2,639.2 C723.7,640.5 724.3,641.7 724.8,642.9 C725.3,644.2 725.9,645.4 726.4,646.7 C726.9,647.9 727.5,649.1 728,650.4 C728.5,651.6 729,652.9 729.5,654.1 C730,655.4 730.5,656.6 731,657.8 C731.5,659.1 732,660.3 732.5,661.6 C733,662.8 733.4,664.1 733.9,665.3 C734.4,666.6 734.8,667.8 735.2,669.1 C735.7,670.4 736.1,671.6 736.5,672.9 C736.9,674.1 737.3,675.4 737.6,676.7 C738,678 738.3,679.2 738.7,680.5 C739,681.8 739.3,683.1 739.6,684.3 C739.9,685.6 740.2,686.9 740.4,688.2 C740.6,689.5 740.9,690.8 741.1,692.1 C741.3,693.4 741.4,694.7 741.6,696 C741.7,697.3 741.9,698.6 741.9,700 C742,701.3 742.1,702.6 742.1,704 C742.2,705.3 742.2,706.6 742.1,708 C742.1,709.3 742,710.7 742,712" stroke="#111" stroke-width="2.13" fill="none" />
<path d="M707.8,351.7 C710.5,352.1 713.1,352.1 716,353 C719.5,354.1 723.3,356.8 727,358.7" stroke="#111" stroke-width="1.46" fill="none" />
<path d="M708.7,657.8 C711.8,656.2 714.7,654.2 718,653 C721.4,651.7 725.3,651.3 728.9,650.5" stroke="#111" stroke-width="1.46" fill="none" />
<line x1="721" y1="701.8" x2="741.7" y2="701.8" stroke="#111" stroke-width="1.57"/>
<line x1="721.5" y1="705" x2="721.5" y2="870" stroke="#111" stroke-width="2.13"/>
<line x1="742" y1="705" x2="742" y2="870" stroke="#111" stroke-width="2.13"/>
<line x1="736.4" y1="705" x2="736.4" y2="870" stroke="#111" stroke-width="1.57"/>
<g transform="translate(131.3,88) rotate(-5)"><ellipse rx="12.4" ry="16.3" stroke="#111" stroke-width="2.13" fill="none"/><path d="M-1.5,-16 A8.8,16.3 0 0 0 1.5,16" stroke="#111" stroke-width="1.8104999999999998" fill="none"/></g>
<g transform="translate(131,273) rotate(-5)"><ellipse rx="12.4" ry="16.3" stroke="#111" stroke-width="2.13" fill="none"/><path d="M-1.5,-16 A8.8,16.3 0 0 0 1.5,16" stroke="#111" stroke-width="1.8104999999999998" fill="none"/></g>
<g transform="translate(131,643) rotate(-5)"><ellipse rx="12.4" ry="16.3" stroke="#111" stroke-width="2.13" fill="none"/><path d="M-1.5,-16 A8.8,16.3 0 0 0 1.5,16" stroke="#111" stroke-width="1.8104999999999998" fill="none"/></g>
<g transform="translate(131.4,828) rotate(-5)"><ellipse rx="12.4" ry="16.3" stroke="#111" stroke-width="2.13" fill="none"/><path d="M-1.5,-16 A8.8,16.3 0 0 0 1.5,16" stroke="#111" stroke-width="1.8104999999999998" fill="none"/></g>
<g transform="translate(687.3,134.3) rotate(-5)"><ellipse rx="12.4" ry="16.3" stroke="#111" stroke-width="2.13" fill="none"/><path d="M-1.5,-16 A8.8,16.3 0 0 0 1.5,16" stroke="#111" stroke-width="1.8104999999999998" fill="none"/></g>
<g transform="translate(687.2,318.9) rotate(-5)"><ellipse rx="12.4" ry="16.3" stroke="#111" stroke-width="2.13" fill="none"/><path d="M-1.5,-16 A8.8,16.3 0 0 0 1.5,16" stroke="#111" stroke-width="1.8104999999999998" fill="none"/></g>
<g transform="translate(687.1,688.3) rotate(-5)"><ellipse rx="12.4" ry="16.3" stroke="#111" stroke-width="2.13" fill="none"/><path d="M-1.5,-16 A8.8,16.3 0 0 0 1.5,16" stroke="#111" stroke-width="1.8104999999999998" fill="none"/></g>
<g transform="translate(687.7,873) rotate(-5)"><ellipse rx="12.4" ry="16.3" stroke="#111" stroke-width="2.13" fill="none"/><path d="M-1.5,-16 A8.8,16.3 0 0 0 1.5,16" stroke="#111" stroke-width="1.8104999999999998" fill="none"/></g>
<g transform="translate(270,284.5) rotate(-5)"><ellipse rx="9.6" ry="12.5" stroke="#111" stroke-width="2.02" fill="none"/><path d="M-1.2,-12.2 A6,12.5 0 0 0 1.2,12.2" stroke="#111" stroke-width="1.7169999999999999" fill="none"/></g>
<g transform="translate(305,333.6) rotate(-5)"><ellipse rx="9.6" ry="12.5" stroke="#111" stroke-width="2.02" fill="none"/><path d="M-1.2,-12.2 A6,12.5 0 0 0 1.2,12.2" stroke="#111" stroke-width="1.7169999999999999" fill="none"/></g>
<g transform="translate(548.2,307.7) rotate(-5)"><ellipse rx="9.6" ry="12.5" stroke="#111" stroke-width="2.02" fill="none"/><path d="M-1.2,-12.2 A6,12.5 0 0 0 1.2,12.2" stroke="#111" stroke-width="1.7169999999999999" fill="none"/></g>
<g transform="translate(513.4,351) rotate(-5)"><ellipse rx="9.6" ry="12.5" stroke="#111" stroke-width="2.02" fill="none"/><path d="M-1.2,-12.2 A6,12.5 0 0 0 1.2,12.2" stroke="#111" stroke-width="1.7169999999999999" fill="none"/></g>
<g transform="translate(305,611) rotate(-5)"><ellipse rx="9.6" ry="12.5" stroke="#111" stroke-width="2.02" fill="none"/><path d="M-1.2,-12.2 A6,12.5 0 0 0 1.2,12.2" stroke="#111" stroke-width="1.7169999999999999" fill="none"/></g>
<g transform="translate(270.2,654.3) rotate(-5)"><ellipse rx="9.6" ry="12.5" stroke="#111" stroke-width="2.02" fill="none"/><path d="M-1.2,-12.2 A6,12.5 0 0 0 1.2,12.2" stroke="#111" stroke-width="1.7169999999999999" fill="none"/></g>
<g transform="translate(513.4,628) rotate(-5)"><ellipse rx="9.6" ry="12.5" stroke="#111" stroke-width="2.02" fill="none"/><path d="M-1.2,-12.2 A6,12.5 0 0 0 1.2,12.2" stroke="#111" stroke-width="1.7169999999999999" fill="none"/></g>
<g transform="translate(548.3,677.2) rotate(-5)"><ellipse rx="9.6" ry="12.5" stroke="#111" stroke-width="2.02" fill="none"/><path d="M-1.2,-12.2 A6,12.5 0 0 0 1.2,12.2" stroke="#111" stroke-width="1.7169999999999999" fill="none"/></g>
<polygon points="507,345 521,346 511,360" fill="#111"/>
<line x1="520" y1="349" x2="512" y2="362" stroke="#111" stroke-width="1.57"/>
<polygon points="509.5,349.5 514,348.5 510,353" fill="#fff"/>
<path d="M510,618.5 C511.3,619.7 512.5,620.8 514,622 C515.8,623.3 518,624.7 520,626" stroke="#111" stroke-width="1.79" fill="none" />
<line x1="544" y1="677.4" x2="552.3" y2="677.4" stroke="#111" stroke-width="1.68"/>
<line x1="553.4" y1="666.5" x2="552.3" y2="687.5" stroke="#111" stroke-width="1.79"/>
<path d="M323,360 C323,357.3 322.6,354.3 323,352 C323.4,350.1 323.9,348.2 325,347 C326.2,345.7 328.2,344.9 330,344.5 C331.9,344.1 334,344.7 336,344.8" stroke="#111" stroke-width="2.02" fill="none" />
<path d="M336,344.8 L485,357.5" stroke="#111" stroke-width="2.02" fill="none" />
<path d="M485,357.5 C486.7,358.2 488.6,358.4 490,359.5 C491.4,360.6 492.7,362.3 493.5,364 C494.4,365.8 494.5,368 495,370" stroke="#111" stroke-width="2.02" fill="none" />
<path d="M323,352 L323.3,595" stroke="#111" stroke-width="2.02" fill="none" />
<path d="M323.3,595 C323.9,596.7 323.8,598.7 325,600 C326.4,601.6 329.5,602.2 331.7,603.3" stroke="#111" stroke-width="2.02" fill="none" />
<path d="M331.7,603.3 L488.3,616.7" stroke="#111" stroke-width="2.02" fill="none" />
<path d="M488.3,616.7 C489.9,615.8 491.8,615.2 493,614 C494.1,612.9 494.7,611.3 495.5,610" stroke="#111" stroke-width="2.02" fill="none" />
<path d="M495,370 L495.5,610" stroke="#111" stroke-width="2.46" fill="none" />
<path d="M491.5,372 L492,610" stroke="#111" stroke-width="1.46" fill="none" />
<path d="M333.5,366 L333.3,583.3" stroke="#111" stroke-width="2.02" fill="none" />
<path d="M323,366 L333.5,366" stroke="#111" stroke-width="1.57" fill="none" />
<path d="M327,365 L351,358" stroke="#111" stroke-width="2.02" fill="none" />
<path d="M330,345 C329,346.7 327.7,348.1 327,350 C326.3,352.1 326,354.6 326,357 C326,359.6 326.7,362.3 327,365" stroke="#111" stroke-width="1.57" fill="none" />
<path d="M323.3,581.7 C326.5,582.1 328.8,582.4 333,583 C340.6,584.1 354.3,586.5 365,588.3" stroke="#111" stroke-width="1.68" fill="none" />
<path d="M325,583 C325.7,587 325.7,591.5 327,595 C328.1,598.1 330.1,600.5 331.7,603.3" stroke="#111" stroke-width="1.46" fill="none" />
<path d="M351,349 C350.7,352.7 350.2,356 350,360 C349.8,364.6 349.9,370 350,375 C350.1,380 350,386.1 350.5,390 C350.8,392.5 351.2,394.1 352,396 C352.7,397.8 353.3,399.2 355,401 C358.1,404.3 365.4,409.9 371,412 C376.1,413.9 381.7,413.3 387,414" stroke="#111" stroke-width="2.91" fill="none" />
<path d="M367,347 C366.7,349.7 366.2,352.2 366,355 C365.8,358.1 365.7,361.6 366,365 C366.3,368.6 367,372.8 368,376 C368.8,378.6 369.6,380.7 371,383 C372.7,385.7 375.7,388.3 378,391 C380.3,393.7 383.3,396.4 385,399 C386.4,401.1 387.3,402.7 388,405 C388.8,407.6 388.7,411 389,414" stroke="#111" stroke-width="2.91" fill="none" />
<path d="M358,348 C357.3,352 356.5,355.8 356,360 C355.5,364.7 354.8,370.2 355,375 C355.2,379.5 355.9,385.3 357,388 C357.6,389.4 358.3,390 359,391" stroke="#111" stroke-width="1.79" fill="none" />
<path d="M362,348 C361.7,352 361.2,355.8 361,360 C360.8,364.7 361,369.9 361,375 C361,380.2 361,385.7 361,391" stroke="#111" stroke-width="1.46" fill="none" />
<path d="M351,391 L362,391" stroke="#111" stroke-width="1.46" fill="none" />
<path d="M379,390 L491,399" stroke="#111" stroke-width="2.02" fill="none" />
<path d="M385,398 L491,406" stroke="#111" stroke-width="2.02" fill="none" />
<path d="M387,403 L491,410" stroke="#111" stroke-width="1.57" fill="none" />
<path d="M387,414 L491.5,422" stroke="#111" stroke-width="2.02" fill="none" />
<path d="M372,414 C369.7,417 367,419.6 365,423 C362.9,426.6 361.2,430.7 360,435 C358.7,439.6 358.4,444.6 358,450 C357.6,456.2 358,463.3 358,470 C358,476.7 357.3,483.4 358,490 C358.7,496.7 360.3,504.9 362,510 C363.2,513.4 364.5,515.5 366,518 C367.5,520.5 369.3,522.7 371,525" stroke="#111" stroke-width="1.79" fill="none" />
<path d="M373,414 L394,511" stroke="#111" stroke-width="2.02" fill="none" />
<path d="M381,414 L400,511" stroke="#111" stroke-width="2.02" fill="none" />
<path d="M386,414 C392.3,415 399.7,416.3 405,417 C408.9,417.5 412.2,417.2 415,418 C417.3,418.7 419.5,419.5 421,421 C422.5,422.5 423,425 424,427" stroke="#111" stroke-width="2.02" fill="none" />
<path d="M424,427 L442,520" stroke="#111" stroke-width="2.02" fill="none" />
<path d="M421,425 L415,538" stroke="#111" stroke-width="2.02" fill="none" />
<path d="M418.5,427 L412.5,538" stroke="#111" stroke-width="1.46" fill="none" />
<path d="M445,460 C444.3,452.7 442.7,442.7 443,438 C443.1,435.7 443.1,434.2 444,433 C444.8,431.9 446.2,431.4 448,431 C451.2,430.4 458.9,430.8 462,432 C463.9,432.7 464.9,433.3 466,435 C467.8,437.9 468,445 469,450" stroke="#111" stroke-width="2.02" fill="none" />
<path d="M469,450 L483,522" stroke="#111" stroke-width="2.02" fill="none" />
<path d="M445,460 L458,522" stroke="#111" stroke-width="2.02" fill="none" />
<path d="M447,437 L463,522" stroke="#111" stroke-width="1.68" fill="none" />
<path d="M446,434 L466,436" stroke="#111" stroke-width="1.46" fill="none" />
<path d="M484,470 C483.3,460 481.9,447.7 482,440 C482,435.1 481.5,430.9 483,428 C484.2,425.6 487.1,424 489,423 C490.4,422.3 491.7,422.3 493,422" stroke="#111" stroke-width="1.79" fill="none" />
<path d="M487,460 C486.7,452.7 485.5,443.7 486,438 C486.3,434.3 486.6,430.8 488,429 C489,427.7 490.7,427.7 492,427" stroke="#111" stroke-width="1.46" fill="none" />
<path d="M484,440 L490,490" stroke="#111" stroke-width="1.46" fill="none" />
<path d="M442,520 L492,524" stroke="#111" stroke-width="2.02" fill="none" />
<path d="M442,524 L492,528" stroke="#111" stroke-width="1.68" fill="none" />
<path d="M401,514 C401.7,515.3 402.9,516.2 403,518 C403.3,521.8 399,530 397,536" stroke="#111" stroke-width="2.02" fill="none" />
<path d="M371,525 C373,522.3 374.7,519.2 377,517 C379.1,514.9 381.4,512.8 384,512 C386.7,511.2 390.1,512.1 393,512.5 C395.8,512.8 398.3,513.5 401,514" stroke="#111" stroke-width="2.02" fill="none" />
<path d="M405,537 C410.3,538 417.2,541.3 421,540 C423.9,539 424.8,535.3 427,533 C429.4,530.6 432.2,527.5 435,526 C437.3,524.8 439.7,524.7 442,524" stroke="#111" stroke-width="2.02" fill="none" />
<path d="M393,537 L405,537" stroke="#111" stroke-width="2.02" fill="none" />
<path d="M405,547 L491.7,555" stroke="#111" stroke-width="2.02" fill="none" />
<path d="M391,547 L405,547" stroke="#111" stroke-width="2.02" fill="none" />
<path d="M371,525 C369.7,529.3 368,532.6 367,538 C365.5,546.2 365.3,560.9 365,570 C364.8,576.9 364.4,582.1 365,588 C365.6,593.8 367.2,599.3 368.3,605" stroke="#111" stroke-width="2.02" fill="none" />
<path d="M395,516 C392.3,519.7 389.2,523 387,527 C384.8,531 383.2,534.7 382,540 C380.3,547.8 379.9,559.5 380,570 C380.1,581.6 382.2,594.5 383.3,606.7" stroke="#111" stroke-width="2.02" fill="none" />
<path d="M398,517 C395.3,520.7 392.2,524.1 390,528 C387.9,531.8 386.2,535 385,540 C383.2,547.6 382.9,559.5 383,570 C383.1,581.6 385,594.5 386,606.7" stroke="#111" stroke-width="1.46" fill="none" />
<path d="M389,600 C389,580 386.7,546.7 389,540 C389.5,538.5 390,538 391,537.5 C392.2,536.8 394.3,537.2 396,537" stroke="#111" stroke-width="2.02" fill="none" />
<path d="M392,600 C392,580.3 389.5,547 392,541 C392.5,539.7 393.3,539.7 394,539" stroke="#111" stroke-width="1.46" fill="none" />
<path d="M367,545.5 L383,547" stroke="#111" stroke-width="1.68" fill="none" />
<path d="M366.7,583.3 L491.7,592.5" stroke="#111" stroke-width="2.02" fill="none" />
<path d="M393.3,601.7 L491.7,609.2" stroke="#111" stroke-width="2.02" fill="none" />
<path d="M389,600 C390.4,600.6 391.9,601.1 393.3,601.7" stroke="#111" stroke-width="1.68" fill="none" />
<path d="M483,548 C482.7,545.3 481.6,542.7 482,540 C482.4,537 484,532.8 486,531 C487.6,529.6 490,529.7 492,529" stroke="#111" stroke-width="1.68" fill="none" />
<path d="M395,603 L395,611" stroke="#111" stroke-width="1.46" fill="none" />
<path d="M412,604 L412,612" stroke="#111" stroke-width="1.46" fill="none" />
<path d="M432,606 L428,613" stroke="#111" stroke-width="1.46" fill="none" />
<path d="M436,606 L432,614" stroke="#111" stroke-width="1.46" fill="none" />
<path d="M139,142 C139,138.1 140.1,134.1 141.7,130.7 C143.2,127.4 145.6,123.9 148.3,122 C150.8,120.3 154.2,119.3 157,119.3 C159.7,119.3 162.6,120.5 165,122 C167.7,123.7 169.5,126.1 172.3,129.3 C176.8,134.4 182.9,143.5 188.3,150.7 C193.8,158.1 199.4,165.9 205,173.3 C210.6,180.6 216.7,188.4 222,195 C226.6,200.6 231.7,205.9 235,210.5 C237.3,213.7 240,216.3 240.3,219.3 C240.6,222.3 238.4,225 236.7,228.7 C234,234.4 229.1,242.3 225,250 C220.2,259.1 214.6,270.7 210,280 C206,288 201.5,295 198.8,302.5 C196.2,309.5 195,318.5 193.5,323.5 C192.7,326.4 192.7,328.5 191.2,330.2 C189.6,332.1 186.2,334.2 183.8,334 C181,333.8 177.1,330.5 175.5,328 C174.1,325.9 174.4,323.6 174,320.5 C173.4,315.8 173.8,308.8 173.2,302.5 C172.6,295.4 171.3,288 170.2,280 C169.1,270.7 168.5,261.6 166.5,250 C163.7,233.8 157.6,206.2 153.7,192 C151.4,183.5 149.1,178.4 147,172 C145.1,166 143.1,160.1 141.7,154.7 C140.5,150.2 138.9,146.1 139,142Z" stroke="#111" stroke-width="1.9" fill="none" />
<path d="M146.3,142 C146.5,138.3 147.4,133.6 149.7,130.7 C152,127.8 157,124.9 160.3,124.7 C163.1,124.5 166.2,126.7 168.3,128 C170,129 170.6,129.7 172.3,131.5 C176,135.5 183,145.4 188.3,152.7 C193.9,160.3 199.4,168.5 205,176 C210.3,183.1 215.9,190.2 221,196.5 C225.4,201.9 230.7,207.2 233.5,211.5 C235.4,214.4 237.2,216.6 237.3,219.3 C237.4,222.1 235.6,224.5 234,228 C231.4,233.7 226.1,242.1 222,250 C217.2,259.2 211.6,270.7 207,280 C203,288 198.7,295.1 196,302.5 C193.6,309.1 192.7,317.7 191.2,322 C190.5,324.3 190.3,326.4 189,327 C187.5,327.7 183.6,326.3 182.2,325 C181.1,323.9 181.1,322.5 180.8,320.5 C180,316.5 180.4,308.8 180,302.5 C179.5,295.4 178.8,288 177.8,280 C176.6,270.7 175.4,261.6 173.2,250 C170.2,233.8 164.5,206.8 160.3,192 C157.6,182.6 154.4,176.4 152.3,169.3 C150.5,163.2 149.4,157 148.3,152 C147.5,148.2 146.1,145.4 146.3,142Z" stroke="#111" stroke-width="1.57" fill="none" />
<path d="M151,142 C152.1,139.1 152.5,135.6 154.3,133.3 C156.1,131 159.2,128.6 161.7,128 C163.7,127.5 166,127.9 167.7,128.7 C169.4,129.5 170,130.9 171.7,133 C175.3,137.4 181.6,147.6 187,155 C192.7,162.8 199.3,171.2 205,178.7 C210.2,185.5 215.4,192.1 220,198 C223.9,203 228.5,208 231,212 C232.7,214.6 234.4,216.6 234.5,219 C234.6,221.5 233,223.7 231.5,227 C228.9,232.8 223.3,241.8 219,250 C214.2,259.3 208.5,270.7 204,280 C200.1,288 195.7,295.1 193.5,302.5 C191.5,309.1 191.5,315.5 190.5,322" stroke="#111" stroke-width="1.46" fill="none" />
<path d="M151,142 C151.2,144.9 151.1,147.3 151.7,150.7 C152.6,155.8 154.9,162.8 157,169.3 C159.3,176.5 162.3,182.6 165,192 C169.3,206.8 175.4,233.8 178.5,250 C180.7,261.6 181.8,270.7 183,280 C184,288 184.6,295.4 185.2,302.5 C185.8,308.8 185.1,316.9 186.8,320.5 C187.7,322.5 189.2,323 190.5,324.2" stroke="#111" stroke-width="1.46" fill="none" />
<path d="M161.7,138.7 C163,138.5 164.6,139.9 166.3,141.3 C169.2,143.8 172.7,149.6 176,154 C179.6,158.7 183.4,163.6 187,168.5 C190.7,173.6 194.3,178.9 198,184 C201.6,189 205.2,194.2 208.7,198.7 C211.8,202.6 215,206.1 218,209.5 C220.7,212.5 224.9,216 226,218 C226.4,218.8 226.6,219.1 226.5,220 C226.1,222.7 220.8,230 218,235 C215.3,240 212.4,245 210,250 C207.7,254.7 206,259.4 204,264 C202,268.6 200.1,274.7 198,277.8 C196.8,279.6 195.4,281.6 194.2,281.5 C193.2,281.4 192.1,279.8 191.2,277.8 C189.2,272.9 189.2,259.3 187.5,250 C185.8,240.4 183.3,230.7 181,221 C178.7,211.3 176.1,201.2 173.7,192 C171.5,183.6 169.3,175.7 167,168 C164.8,160.7 161.6,151.2 160.3,146.7 C159.7,144.6 158.7,143.4 159,142 C159.3,140.7 160.6,138.9 161.7,138.7Z" stroke="#111" stroke-width="1.9" fill="none" />
<path d="M163.7,144 C166.1,152 168.6,160 171,168 C173.4,176 176.1,183.6 178.3,192 C180.7,201.2 182.5,211.3 184.5,221 C186.5,230.7 188.7,240.4 190.5,250 C192.2,259.5 193.5,269 195,278.5" stroke="#111" stroke-width="1.34" fill="none" />
<line x1="141.7" y1="154.7" x2="151.5" y2="150.7" stroke="#111" stroke-width="1.46"/>
<line x1="174.8" y1="320.5" x2="186" y2="320.5" stroke="#111" stroke-width="1.46"/>
<path d="M620,199.5 C625,194.2 630.5,187.1 635,181.5 C638.9,176.7 642,171.6 645.5,168 C648.3,165.2 650.9,162.5 653.8,161.2 C656.2,160.2 658.8,159.7 661.2,160.1 C663.8,160.6 666.5,162.4 668.8,164.2 C671.3,166.4 673.9,169.3 675.5,172.5 C677.2,175.8 678.1,180 678.5,183.8 C678.9,187.5 678.5,190.7 677.8,195 C676.6,201.3 673.7,210.1 671,217.5 C668.2,225.1 664.1,231.3 661.2,240 C657.6,251.3 654.9,267.2 652.5,280 C650.4,291.6 649,302.2 647.5,313.3 C646,324.4 644.1,338.1 643.3,346.7 C642.8,352.1 643.4,356.1 642.5,360 C641.8,363.2 641,366.5 639.2,368.3 C637.7,369.8 635.3,371 633.3,370.8 C631.1,370.5 628.1,367.8 626.7,365.8 C625.5,364.1 625.9,362.8 625,360 C622.8,352.8 617.1,333.8 612.5,321.7 C608.2,310.5 602.8,299.2 598.5,290 C595.1,282.8 592.1,277.2 589,271 C586.1,265.2 582.5,258.8 580.5,254 C579.1,250.6 577.3,248 577.5,245 C577.7,242 579.7,239.1 582,236 C585.2,231.7 591.9,226.8 596.2,222.5 C600.1,218.7 603.2,215.4 607,211.7 C611.1,207.7 615.7,204.1 620,199.5Z" stroke="#111" stroke-width="1.9" fill="none" />
<path d="M628.5,200 C631,197.5 632.5,196.4 635,193.5 C639.4,188.5 646.1,176.4 651.5,171.8 C655.1,168.7 658.7,166.4 662,166.1 C664.7,165.9 667.3,167.2 669.5,168.8 C671.9,170.4 674.3,173.3 675.5,176.2 C676.8,179.4 676.5,183.7 676.5,187 C676.5,189.9 676.4,191.7 675.8,195 C674.7,200.6 672,210.1 669.3,217.5 C666.6,225.1 662.3,231.3 659.5,240 C655.9,251.3 653.3,267.2 651,280 C648.9,291.6 647.5,302.2 646,313.3 C644.5,324.4 643,338.1 642,346.7 C641.4,352.1 642.2,357 640.5,360 C639.3,362.1 636.5,364.5 635,364.2 C633.6,364 632.9,361.8 631.7,359.2 C628.7,352.6 625.1,333.5 620.8,321.7 C616.7,310.5 611.3,299.3 606.8,290 C603.1,282.5 599.4,276.6 596,270 C592.7,263.6 588.2,255.2 586.5,251 C585.7,249 585,248.1 585,246.5 C585,244.6 585.7,242.8 587.2,240.5 C590.1,236.2 598.7,229.8 603.8,224.8 C608.2,220.3 611.9,216.1 616,212 C620.1,207.9 625,203.4 628.5,200Z" stroke="#111" stroke-width="1.57" fill="none" />
<path d="M640.8,361.7 C639.4,360.9 638,361 636.7,359.2 C633.1,354.2 632.7,333.4 628.3,321.7 C624.1,310.4 616.3,299.6 611.2,290 C607.1,282 603.7,275.1 600,268 C596.5,261.3 589.9,253 589.5,248.8 C589.3,246.8 589.9,246 591,244.2 C593.5,240.3 602.4,233.5 607.5,228.5 C612,224.1 615.7,220.6 620,216 C624.9,210.8 629.8,205.1 635,198.8 C641.2,191.3 648.9,178.7 654.5,174 C657.5,171.4 660.1,169.7 662.8,169.5 C665.1,169.3 667.6,170.3 669.5,171.8 C671.7,173.5 673.7,176.7 674.8,180 C676,184.1 676.1,189.6 675.3,195 C674.3,201.8 670.8,210.1 668,217.5 C665.1,225.1 660.8,231.3 658,240 C654.3,251.3 651.8,267.2 649.5,280 C647.4,291.6 645.9,302.2 644.5,313.3 C643.1,324.4 641.9,337.8 641.3,346.7 C640.9,352.7 641,356.7 640.8,361.7" stroke="#111" stroke-width="1.46" fill="none" />
<path d="M664.2,180.8 C665.3,180.7 667.2,181.9 668,183 C668.8,184.1 668.8,185.5 668.8,187.5 C668.7,191.6 666.7,200.6 665,206.2 C663.5,211.3 661.7,215.4 659.6,220 C657.3,225 653.9,229.4 651.7,235 C649.1,241.6 647.7,249.6 645.8,257.5 C643.7,266.2 641.7,275.7 640,285 C638.3,294.5 637.2,308.7 635.8,314 C635.3,316.1 634.7,318.3 634.2,318.3 C633.6,318.3 633.3,316.1 632.5,314 C630.4,308.6 625.4,293.3 621.7,285 C618.8,278.5 615.8,273.6 613,268 C610.3,262.5 607.3,254.5 605,251.7 C604,250.5 602.4,250.4 602.2,249.5 C602.1,248.4 603.5,247.1 605,245.5 C608.2,242.1 616.5,237.4 622.5,231.5 C630.2,223.9 639.2,211.3 646.2,202.5 C652.1,195.2 659,185.1 662,182.2 C663,181.3 663.4,180.8 664.2,180.8Z" stroke="#111" stroke-width="1.9" fill="none" />
<path d="M605.5,248 C611.2,243.5 616.6,240.1 622.5,234.5 C630.1,227.2 639,215.9 646.2,207 C652.8,199 658.2,191.5 664.2,183.8" stroke="#111" stroke-width="1.34" fill="none" />
<line x1="609.2" y1="255" x2="645.8" y2="257.5" stroke="#111" stroke-width="1.68"/>
<line x1="615" y1="266.2" x2="643.3" y2="268" stroke="#111" stroke-width="1.68"/>
<path d="M632.5,303.3 C633,292.2 632.9,277.3 634,270 C634.5,266.4 634.7,264.1 636,262 C637.1,260.2 639,259.3 640.5,258" stroke="#111" stroke-width="1.57" fill="none" />
<line x1="640.8" y1="258.3" x2="640" y2="290" stroke="#111" stroke-width="1.46"/>
<line x1="645.5" y1="168" x2="655.2" y2="173.2" stroke="#111" stroke-width="1.46"/>
<line x1="580.5" y1="254" x2="589.5" y2="248.8" stroke="#111" stroke-width="1.46"/>
<line x1="625" y1="360.8" x2="636.7" y2="359.2" stroke="#111" stroke-width="1.46"/>
<path d="M174.7,601.7 C175.2,598.8 175.3,596.8 176.7,595 C178.1,593.1 181.1,591.1 183.3,591 C185.5,590.9 188.4,592.7 190,594.3 C191.4,595.7 191.8,597.4 192.7,599.7 C194.1,603.4 195.1,609.6 196.7,615 C198.5,621.2 200.6,627.9 203.3,635 C206.5,643.3 211.3,654 215,661.7 C217.9,667.7 220.2,671.6 223.3,677.5 C227.2,685 233.9,696.3 236.7,703.3 C238.5,707.9 240.2,711.8 240,715 C239.8,717.3 239,718.5 237.5,720.8 C234.6,725.2 225.9,733.7 221.7,738 C219,740.7 217.6,741.7 214.9,744.5 C210.5,749.1 203.4,758 198.3,763.8 C194,768.7 190.5,772.5 186.4,777.2 C182,782.2 177,789 173,793.1 C170.1,796.1 168.2,798.9 165.1,800.2 C162.1,801.5 158,802.1 154.8,801 C151.1,799.7 147,795.4 144.5,791.5 C141.9,787.5 140,781.9 139.7,777.2 C139.4,772.7 140.9,768.8 142.1,763.8 C143.7,757.3 146.7,749.7 149.2,741.6 C152.2,732 155.9,721.5 158.7,710 C162,696.4 165.3,677 167.3,665 C168.6,657 169,651.7 170,645 C171,638.3 172.5,631.9 173.3,625 C174.1,617.6 173.7,607.1 174.7,601.7Z" stroke="#111" stroke-width="1.9" fill="none" />
<path d="M181.3,602.3 C181.5,600.6 181.3,599.9 182,599 C182.9,597.8 185.2,596.3 186.7,596.3 C188.1,596.3 189.6,596.9 190.7,598.3 C192.7,600.8 193,607.6 194.5,613 C196.4,619.6 198.7,627.4 201.5,635 C204.7,643.6 209.3,654.2 213,662 C215.9,668.1 218.4,672 221.5,678 C225.4,685.5 232,696.5 234.5,703.5 C236.1,708 237.6,712 237.2,715 C236.9,717.1 236,718 234.5,720 C231.6,724 223.2,732.3 219,736 C216.5,738.3 215,738.6 212.5,741 C208.1,745.3 201.1,755 196,761 C191.7,766 187.9,769.8 184,774.5 C180,779.4 175.1,786.3 172.2,789.9 C170.5,791.9 170.1,793.7 168.2,794.6 C165.9,795.7 161.5,795.7 158.7,794.6 C155.7,793.4 152.8,790.4 150.8,787.5 C148.8,784.6 147.4,780.8 146.9,777.2 C146.3,773.5 146.7,769.9 147.7,765.4 C149.1,758.8 153.5,750.1 156.4,741.6 C159.8,731.8 163.7,721.6 166.6,710 C170,696.4 172.5,678.9 174.7,665 C176.6,653.1 178.2,642.5 179.3,631.7 C180.3,621.6 180.6,607.2 181.3,602.3Z" stroke="#111" stroke-width="1.57" fill="none" />
<path d="M189.3,600.3 C188.2,601.2 186.8,601.3 186,603 C183.8,607.3 185.7,621.8 184.7,631.7 C183.6,642.4 181.4,653.1 179.3,665 C176.8,678.9 174,696.4 170.6,710 C167.8,721.5 164.3,731.8 161.1,741.6 C158.2,750.3 153.8,759.6 152.4,766.2 C151.5,770.5 150.9,773.9 151.6,777.2 C152.2,780.2 153.8,783 155.6,785.2 C157.5,787.5 160.2,790.3 162.7,790.7 C165,791.1 167.4,790 169.8,788.3 C173.8,785.4 177.9,777.2 182,772 C185.9,767.1 189.7,763.1 194,758 C199.1,752 205.9,743.1 210.5,738.5 C213.4,735.6 215.1,734.6 218,732 C222.1,728.4 229.8,722.5 232.5,719 C233.9,717.1 234.8,716 235,714 C235.3,711.2 234,707.7 232.5,703.5 C230,696.7 223.4,685.5 219.5,678 C216.4,672 213.9,668.1 211,662 C207.3,654.2 202.6,643.6 199.5,635 C196.8,627.4 194.9,619.3 193,613 C191.6,608.2 190.5,604.5 189.3,600.3" stroke="#111" stroke-width="1.46" fill="none" />
<path d="M193.3,642.5 C194.2,642.4 195.5,644 196.3,645 C197.1,646 197.4,646.6 198.3,648.3 C201.3,654 210,674.8 215,685.8 C219,694.5 224.2,705.3 225.8,709.2 C226.3,710.4 226.9,710.7 226.7,711.7 C226.1,714.3 219.2,718.7 215,723 C209.9,728.2 203.7,734.8 198.3,741 C192.8,747.3 187.9,754.3 182.5,760.6 C177.1,766.9 169.8,777.5 165.9,778.8 C164.3,779.3 162.7,778.9 161.9,778 C160.8,776.8 160.8,774.1 161.1,770.9 C161.7,764.2 166.9,750.2 170,740 C173,729.9 176.4,721.1 179.3,710 C182.8,696.6 186.7,677 188.7,665 C190,657 189.9,648.4 191.3,645 C191.9,643.6 192.5,642.6 193.3,642.5Z" stroke="#111" stroke-width="1.9" fill="none" />
<path d="M194.7,645 C194,651.7 193.7,658 192.7,665 C191.6,672.9 189.8,682.2 188,690 C186.4,697.1 184.6,702.6 182.5,710 C179.8,719.4 176.1,731.5 173,742 C170,752.3 167.2,762.3 164.3,772.5" stroke="#111" stroke-width="1.34" fill="none" />
<line x1="141.3" y1="763.8" x2="152.4" y2="767" stroke="#111" stroke-width="1.46"/>
<line x1="174.7" y1="601.7" x2="186" y2="603" stroke="#111" stroke-width="1.46"/>
<path d="M624.5,636.5 C625.7,633.3 625.9,631.3 627.5,629.8 C629,628.4 631.5,627.5 633.5,627.5 C635.5,627.5 637.9,628.4 639.5,629.8 C641.2,631.3 642.4,633.5 643.2,636.5 C644.6,641.5 643.4,650.4 644,657.5 C644.6,664.9 646,672 647,680 C648.2,689.3 649.3,700.5 650.8,710 C652,718.7 653.5,726.7 655,735 C656.5,743.3 657.4,751.4 660,760 C662.9,769.7 668.7,780.6 672,790 C674.8,798 677.8,806.2 678.8,812.5 C679.4,816.8 679.7,820 678.8,823.8 C677.7,828 675.1,833.3 672,836.5 C669.2,839.4 664.9,842.3 661.5,842.5 C658.4,842.7 655,840.6 652.5,838.8 C650.1,837 648.9,835 646.5,832 C642.2,826.7 635.5,816 630,808.8 C625,802.1 620.3,796.1 615,790 C609.6,783.8 603.5,778 598,772 C592.5,766 585.3,759.2 582,754 C579.9,750.7 578.4,748.1 578.2,745 C578.1,741.7 579.5,738.9 581.2,734.5 C584.6,726.2 594.5,710.9 600,700 C604.8,690.4 608.6,682.4 612.5,672.5 C616.9,661.4 621.7,643.7 624.5,636.5Z" stroke="#111" stroke-width="1.9" fill="none" />
<path d="M631.2,638 C632.4,635.7 632.9,634.4 634.2,633.5 C635.5,632.7 637.5,632.3 638.8,632.8 C640,633.1 641,634.1 641.8,635.8 C643.4,639.5 641.9,650.2 642.5,657.5 C643.1,665 644.5,672 645.5,680 C646.7,689.3 647.8,700.5 649.2,710 C650.5,718.7 652,726.7 653.5,735 C655.1,743.3 655.9,751.4 658.5,760 C661.4,769.7 667.3,780.7 670.5,790 C673.2,797.8 676,805.4 677,812 C677.8,817.1 678.7,822.1 677.2,826 C675.9,829.7 672.2,833.6 669,835 C666.3,836.2 662.7,836.1 660,835 C657.1,833.8 655.5,831 652.5,827.5 C646.8,821 635.1,804.1 630,797.5 C627.4,794.1 626.6,793.1 624,790 C619.6,784.7 612.1,775.8 606,769 C600.1,762.3 591.6,753.8 588,749.5 C586.4,747.5 585,746.8 584.6,745 C584.2,742.9 585.2,740.8 586.5,737.5 C589.6,729.6 601.6,711.6 607.5,700 C612.4,690.2 616.2,682.3 620,672.5 C624.2,661.8 628.3,644 631.2,638Z" stroke="#111" stroke-width="1.57" fill="none" />
<path d="M675.5,823 C673.8,825.5 672.8,829.1 670.5,830.5 C668.2,831.9 664.1,832.1 661.5,831.2 C658.9,830.4 657.5,828.3 654.8,825.2 C648.8,818.6 638,800.2 630,790 C623.5,781.6 617.4,775.2 611,768 C604.7,760.9 594.5,750.7 591.8,747.2 C590.9,746.2 590.5,746 590.2,745 C589.9,743.7 590.2,742.2 591,739.8 C593.4,732.6 606.8,712.2 612.8,700 C617.6,690.1 620.7,682.3 624.5,672.5 C628.7,661.7 632.9,639.4 636.5,638 C637.7,637.5 639.2,638.6 640,640 C641.8,642.8 640.4,651.3 641,657.5 C641.7,664.5 642.9,672 644,680 C645.2,689.3 646.6,700.5 648,710 C649.3,718.7 650.5,726.7 652,735 C653.5,743.3 654.4,751.4 657,760 C659.9,769.7 665.7,780.7 669,790 C671.8,797.8 675.2,805.9 676,812 C676.6,816.2 675.7,819.3 675.5,823" stroke="#111" stroke-width="1.46" fill="none" />
<path d="M634.2,678.5 C635.3,678.4 636.5,680.4 637.2,682.2 C638.7,685.9 638.1,693.5 639,700 C640.1,708.1 642.2,718.1 644,727 C645.7,735.6 648,746.5 649.5,752.5 C650.3,755.8 650.8,756.7 651.8,760 C653.6,766.2 657.3,778.1 660,787 C662.6,795.6 666.3,807.5 667.5,812.5 C668,814.6 668.6,815.6 668.2,817 C667.9,818.4 666.4,820.6 665.2,820.8 C664.1,820.9 663,819.4 661.5,817.8 C657.8,813.6 651.3,801.1 646,793 C640.8,785.1 636.5,777.3 630,769.8 C622.7,761.2 607.7,748.8 603.8,745 C602.6,743.9 601.7,743.6 601.5,742.8 C601.3,741.9 601.7,741.1 602.2,739.8 C603.7,736 609.4,726.6 613,720 C616.6,713.4 621,706.1 624,700 C626.4,695 628.1,689.9 630,686 C631.5,683.1 632.9,678.6 634.2,678.5Z" stroke="#111" stroke-width="1.9" fill="none" />
<path d="M606.8,745 C615.5,753.3 625.7,761.2 633,769.8 C639.5,777.3 643.7,785.2 649,793 C654.2,800.8 659.3,808.7 664.5,816.5" stroke="#111" stroke-width="1.34" fill="none" />
<path d="M605.2,740.5 C608.5,734.3 611.7,728.4 615,722 C618.6,715 622.9,707 626.2,700 C629.3,693.7 631.8,688 634.5,682" stroke="#111" stroke-width="1.34" fill="none" />
<path d="M627.5,690.5 C627.5,693.7 625.9,698.6 627.5,700.2 C629.1,701.9 635.7,701.9 637.2,700.2 C638.8,698.6 636.8,693.8 636.5,690.5" stroke="#111" stroke-width="1.68" fill="none" />
<line x1="646.5" y1="832" x2="654.8" y2="826.8" stroke="#111" stroke-width="1.46"/>
<line x1="581.2" y1="734.5" x2="591" y2="739.8" stroke="#111" stroke-width="1.46"/>
<line x1="624.5" y1="636.5" x2="636.5" y2="638" stroke="#111" stroke-width="1.46"/>
<line x1="702" y1="77.5" x2="1104" y2="125" stroke="#8a8a8a" stroke-width="1.5"/>
<line x1="679.5" y1="133" x2="959" y2="167.5" stroke="#8a8a8a" stroke-width="1.5"/>
<line x1="925.4" y1="164" x2="925.4" y2="900" stroke="#8a8a8a" stroke-width="1.5"/>
<polygon points="925.4,163.8 920.6,190.4 930.2,190.4" fill="#111"/>
<polygon points="925.4,900 920.6,872.5 930.2,872.5" fill="#111"/>
<line x1="1044.4" y1="116" x2="1044.4" y2="972" stroke="#8a8a8a" stroke-width="1.5"/>
<polygon points="1044.4,116 1039.6,145 1049.2,145" fill="#111"/>
<polygon points="1044.4,972 1039.6,944.5 1049.2,944.5" fill="#111"/>
<line x1="688" y1="873" x2="953" y2="905" stroke="#8a8a8a" stroke-width="1.5"/>
<line x1="700" y1="927" x2="1100" y2="980" stroke="#8a8a8a" stroke-width="1.5"/>
<line x1="131.5" y1="828" x2="131.5" y2="994" stroke="#8a8a8a" stroke-width="1.5"/>
<line x1="688" y1="873" x2="688" y2="1084" stroke="#8a8a8a" stroke-width="1.5"/>
<line x1="742.3" y1="880" x2="742.3" y2="1168" stroke="#8a8a8a" stroke-width="1.5"/>
<line x1="131.8" y1="962.8" x2="688" y2="1030" stroke="#8a8a8a" stroke-width="1.5"/>
<polygon points="131.8,962.8 158.5,961.8 158.5,971.2" fill="#111"/>
<polygon points="688,1030 661.5,1021.2 661.5,1030.8" fill="#111"/>
<line x1="96" y1="1056" x2="742" y2="1133" stroke="#8a8a8a" stroke-width="1.5"/>
<polygon points="96,1056 122.5,1055 122.5,1064.5" fill="#111"/>
<polygon points="742,1133 715.5,1124.2 715.5,1133.8" fill="#111"/>
<path d="M760,473 Q791,528 758.5,586" stroke="#8a8a8a" stroke-width="1.0" fill="none" />
<polygon points="740.5,451.2 754.8,474.5 763,467.8" fill="#111"/>
<polygon points="737.5,605.8 754,584.8 761.5,590.8" fill="#111"/>
<g transform="translate(428.5,816.5) rotate(5)"><ellipse rx="41.6" ry="25.2" stroke="#808080" stroke-width="1.1" fill="none"/></g>
<rect x="401" y="782" width="48" height="16" fill="#fff"/>
<polygon points="415.4,792.1 400,788.3 400,796.7" fill="#111"/>
<polygon points="435.8,790.8 449.2,787.1 449.2,795.4" fill="#111"/>
<g transform="translate(380.4,978.7) rotate(6)"><text font-family="Liberation Sans, sans-serif" font-size="36.8" transform="scale(0.862,1)">200</text><text font-family="Liberation Sans, sans-serif" font-size="39.2" transform="translate(52,0) scale(0.823,1)">mm</text></g>
<g transform="translate(361.9,1081.7) rotate(6)"><text font-family="Liberation Sans, sans-serif" font-size="36.8" transform="scale(0.862,1)">230</text><text font-family="Liberation Sans, sans-serif" font-size="39.2" transform="translate(52,0) scale(0.823,1)">mm</text></g>
<g transform="translate(918.2,572) rotate(-90)"><text font-family="Liberation Sans, sans-serif" font-size="37.5" transform="scale(0.826,1)">200</text><text font-family="Liberation Sans, sans-serif" font-size="40.9" transform="translate(51.9,0) scale(0.78,1)">mm</text></g>
<g transform="translate(1033.7,569.2) rotate(-90)"><text font-family="Liberation Sans, sans-serif" font-size="37.5" transform="scale(0.826,1)">230</text><text font-family="Liberation Sans, sans-serif" font-size="40.9" transform="translate(51.9,0) scale(0.78,1)">mm</text></g>
<text font-family="Liberation Serif, serif" font-size="50.2" transform="translate(764.1,447.7) scale(0.764,1)">&#8722;2&#176;</text>
<text font-family="Liberation Serif, serif" font-size="50.5" transform="translate(766.8,631.3) scale(0.78,1)">12&#176;</text>
<text font-family="Liberation Serif, serif" font-size="52.8" transform="translate(398.7,879.4) scale(0.94,1)">&#177;</text>
<text font-family="Liberation Serif, serif" font-size="39.6" transform="translate(426.9,879.7) scale(0.847,1)">25&#176;</text>
</svg></body></html>
